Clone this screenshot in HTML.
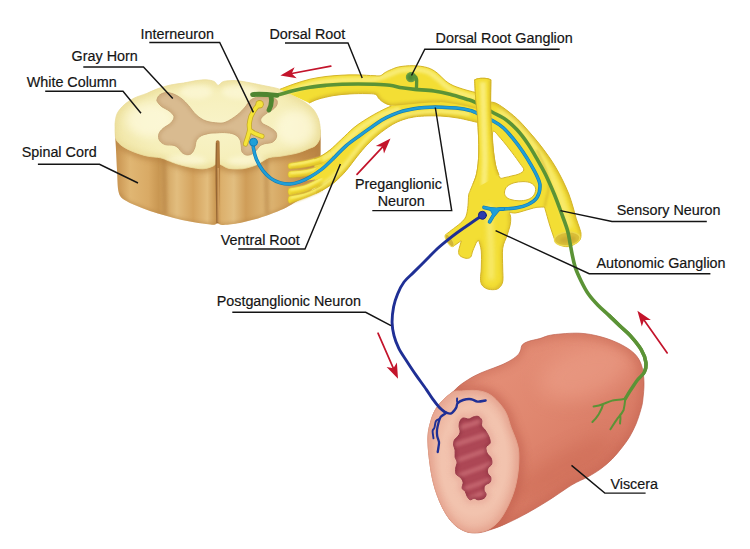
<!DOCTYPE html>
<html lang="en">
<head>
<meta charset="utf-8">
<title>Autonomic reflex arc</title>
<style>
html,body{margin:0;padding:0;background:#fff;}
body{width:750px;height:549px;overflow:hidden;font-family:"Liberation Sans",sans-serif;}
svg{display:block;}
</style>
</head>
<body>
<svg width="750" height="549" viewBox="0 0 750 549">
<rect width="750" height="549" fill="#ffffff"/>
<defs>
<filter id="b1" filterUnits="userSpaceOnUse" x="0" y="0" width="750" height="549"><feGaussianBlur stdDeviation="0.8"/></filter>
<filter id="b2" filterUnits="userSpaceOnUse" x="0" y="0" width="750" height="549"><feGaussianBlur stdDeviation="1.5"/></filter>
<filter id="b3" filterUnits="userSpaceOnUse" x="0" y="0" width="750" height="549"><feGaussianBlur stdDeviation="2.5"/></filter>
<filter id="b4" filterUnits="userSpaceOnUse" x="0" y="0" width="750" height="549"><feGaussianBlur stdDeviation="4"/></filter>
<filter id="b8" filterUnits="userSpaceOnUse" x="0" y="0" width="750" height="549"><feGaussianBlur stdDeviation="9"/></filter>
<linearGradient id="gSide" x1="116" y1="0" x2="319" y2="0" gradientUnits="userSpaceOnUse">
<stop offset="0" stop-color="#c8934f"/><stop offset=".07" stop-color="#e0b673"/><stop offset=".16" stop-color="#d9aa65"/>
<stop offset=".21" stop-color="#c99752"/><stop offset=".30" stop-color="#e2bd7e"/><stop offset=".38" stop-color="#d4a35e"/>
<stop offset=".45" stop-color="#e3bd7d"/><stop offset=".495" stop-color="#c8954f"/><stop offset=".52" stop-color="#dcb06c"/>
<stop offset=".58" stop-color="#e2be80"/><stop offset=".64" stop-color="#cf9d58"/><stop offset=".74" stop-color="#dfb877"/>
<stop offset=".84" stop-color="#d3a25c"/><stop offset=".93" stop-color="#c48e4a"/><stop offset="1" stop-color="#b98445"/>
</linearGradient>
<radialGradient id="gTop" cx="217" cy="125" r="105" gradientUnits="userSpaceOnUse" gradientTransform="translate(0 62.5) scale(1 .5)">
<stop offset="0" stop-color="#f8f3c8"/><stop offset=".7" stop-color="#f6efba"/><stop offset="1" stop-color="#f1e6a8"/>
</radialGradient>
<linearGradient id="gBody" x1="470" y1="350" x2="610" y2="500" gradientUnits="userSpaceOnUse">
<stop offset="0" stop-color="#e6917a"/><stop offset=".45" stop-color="#e0876f"/><stop offset="1" stop-color="#d4735f"/>
</linearGradient>
<radialGradient id="gFace" cx="473" cy="460" r="72" gradientUnits="userSpaceOnUse" gradientTransform="translate(190 0) scale(.6 1)">
<stop offset="0" stop-color="#f3c4b0"/><stop offset=".75" stop-color="#f2c3ae"/><stop offset="1" stop-color="#ecb39e"/>
</radialGradient>
<clipPath id="cSide"><path d="M115.1,128 L115.5,140 C115.8,145 116.5,161.2 117,170 C117.5,178.8 117.3,187.7 118.8,192.8 C120.3,197.9 122.1,198.3 126,200.8 C129.9,203.3 136.7,205.9 142,208 C147.3,210.1 152.7,211.9 158,213.6 C163.3,215.3 168.7,216.7 174,218 C179.3,219.3 184.7,220.6 190,221.6 C195.3,222.6 202,223.5 206,224 C210,224.5 212.1,224.9 214,224.8 C215.9,224.7 216.3,223.2 217.5,223.2 C218.7,223.2 219.6,224.5 221,224.8 C222.4,225.1 222.5,225.2 226,224.8 C229.5,224.4 236.7,223.5 242,222.4 C247.3,221.3 252.7,220 258,218.4 C263.3,216.8 269.2,214.7 274,212.8 C278.8,210.9 283.1,209.1 286.8,207.2 C290.5,205.3 292.7,204 296.4,201.6 C300.1,199.2 305.6,196.7 309.2,192.8 C312.8,188.9 316.1,183.5 318,178 C319.9,172.5 320,167.8 320.4,160 C320.8,152.2 320.4,135.8 320.4,131 L318,118 L116.5,118 Z"/></clipPath>
<clipPath id="cTop"><path d="M115.1,128 C115.1,126.4 114.8,125.4 115.1,123 C115.4,120.6 115.7,116.5 117.2,113.4 C118.8,110.3 121.6,107.1 124.4,104.6 C127.2,102.1 130.3,100.1 134,98.2 C137.7,96.3 142.8,95 146.8,93.4 C150.8,91.8 154,90 158,88.6 C162,87.2 166.5,85.8 170.8,84.9 C175.1,84 179.3,83.7 183.6,83 C187.9,82.3 192.7,81.1 196.4,80.6 C200.1,80.1 203.1,79.7 206,79.8 C208.9,79.9 212,80.5 214,81.4 C216,82.3 216.7,85.2 218,85.4 C219.3,85.6 220.7,83 222,82.3 C223.3,81.6 223.7,81.3 226,81 C228.3,80.7 232.1,80.4 235.6,80.6 C239.1,80.8 242.3,81.4 246.8,82.2 C251.3,83 257.2,84.2 262.8,85.4 C268.4,86.6 275.1,87.5 280.4,89.4 C285.7,91.3 290.5,94.3 294.8,96.6 C299.1,98.9 302.8,100.7 306,103 C309.2,105.3 311.9,107.4 314,110.2 C316.1,113 317.7,116.3 318.8,119.8 C319.9,123.3 320.3,127.8 320.4,131 C320.5,134.2 320.4,136.6 319.6,139 C318.8,141.4 317.3,143.8 315.6,145.4 C313.9,147 312.1,147.3 309.2,148.5 C306.3,149.7 302.5,151.6 298,152.8 C293.5,154.1 286.7,155.2 282,156 C277.3,156.8 272.9,156.7 270,157.4 C267.1,158.1 266.5,158.9 264.5,160 C262.5,161.1 260.1,162.9 258,164 C255.8,165.1 254.3,165.8 251.6,166.6 C248.9,167.4 245.8,168.5 242,168.8 C238.2,169.1 232.2,169 229,168.4 C225.8,167.8 224.1,166.2 222.5,165.5 C220.9,164.8 220.1,164.1 219.3,164.2 C218.5,164.3 218.1,166 217.5,166 C216.9,166 216.5,164.1 215.7,164.2 C214.8,164.3 214.6,165.6 212.4,166.4 C210.2,167.2 206.5,168.7 202.8,168.8 C199.1,168.9 194.3,168 190,167.2 C185.7,166.4 180.9,165.1 177.2,164 C173.5,162.9 170.8,161.6 168,160.6 C165.2,159.6 164,158.6 160.5,157.8 C157,157 151.2,157 146.8,156 C142.4,155 138,153.6 134,152 C130,150.4 125.7,148.4 122.8,146.4 C119.9,144.4 117.7,142.3 116.4,140 C115.1,137.7 115.3,134.6 115.1,132.6 C114.9,130.6 115.1,129.6 115.1,128 Z"/></clipPath>
<clipPath id="cGray"><path d="M157.2,99 C157.6,97.9 158.1,96.1 159.6,95 C161.1,93.9 163.6,92.7 166,92.6 C168.4,92.5 171.3,93.1 174,94.2 C176.7,95.3 179.6,97.1 182,99 C184.4,100.9 186,102.7 188.4,105.4 C190.8,108.1 193.5,112.4 196.4,115 C199.3,117.6 202.4,119.7 206,121 C209.6,122.3 214.7,122.8 218,123 C221.3,123.2 222.8,123.3 226,122 C229.2,120.7 234,117.5 237.2,115 C240.4,112.5 243.1,109.4 245.2,107 C247.3,104.6 248.1,102.2 250,100.6 C251.9,99 253.7,98 256.4,97.4 C259.1,96.8 262.8,96.7 266,97 C269.2,97.3 273.7,97.9 275.6,99 C277.5,100.1 277.5,102.2 277.2,103.8 C276.9,105.4 275.6,107.1 274,108.6 C272.4,110.1 269.7,111 267.6,112.6 C265.5,114.2 262.1,116.5 261.2,118.2 C260.3,119.9 260.7,121.5 262,123 C263.3,124.5 266.9,125.5 269.2,127 C271.5,128.5 274.4,130.1 275.6,131.8 C276.8,133.5 276.9,135.7 276.4,137.4 C275.9,139.1 274.4,141.1 272.4,142.2 C270.4,143.3 266.5,143.1 264.4,143.8 C262.3,144.5 260.9,145.1 259.6,146.2 C258.3,147.3 257.7,148.9 256.4,150.2 C255.1,151.5 253.3,153.4 251.6,154.2 C249.9,155 247.6,155.4 246,155 C244.4,154.6 242.8,153.4 242,151.8 C241.2,150.2 241.6,147.5 241.2,145.4 C240.8,143.3 240.8,140.9 239.6,139 C238.4,137.1 236.5,135.3 234,134.2 C231.5,133.1 227.6,132.8 224.4,132.6 C221.2,132.4 217.3,132.9 214.8,133 C212.3,133.1 211.5,132.9 209.2,133.4 C206.9,133.9 203.3,134.6 201.2,135.8 C199.1,137 197.5,138.6 196.4,140.6 C195.3,142.6 195.6,145.7 194.8,147.8 C194,149.9 192.9,152.2 191.6,153.4 C190.3,154.6 188.4,154.8 186.8,154.7 C185.2,154.6 183.3,153.6 182,152.6 C180.7,151.6 180.1,149.8 178.8,148.6 C177.5,147.4 176.3,146.1 174,145.4 C171.7,144.7 167.6,145.4 165.2,144.6 C162.8,143.8 160.7,142.3 159.6,140.6 C158.5,138.9 158.3,136.2 158.8,134.2 C159.3,132.2 160.8,130.5 162.8,128.6 C164.8,126.7 168.9,125 170.8,123 C172.7,121 174.3,118.6 174,116.6 C173.7,114.6 171.3,112.7 169.2,111 C167.1,109.3 163.2,107.8 161.2,106.2 C159.2,104.6 157.9,102.6 157.2,101.4 C156.5,100.2 156.8,100.1 157.2,99 Z"/></clipPath>
<clipPath id="cVR"><path d="M314,158.8 C315.1,158.4 317.7,157.9 320.4,156.4 C323.1,154.9 326.5,152.8 330,150 C333.5,147.2 337.2,143.3 341.2,139.6 C345.2,135.9 349.7,131.1 354,127.6 C358.3,124.1 362.5,121.5 366.8,118.8 C371.1,116.1 375.5,113.6 379.6,111.5 C383.7,109.4 386.1,107.4 391.2,106 C396.3,104.6 401.9,103.8 410,103 C418.1,102.2 428.7,101.3 440,101 C451.3,100.7 471.7,101 478,101 L478,122.5 C474.7,121.8 464.3,119.1 458,118 C451.7,116.9 445.6,116.3 440,116 C434.4,115.7 428.9,115.8 424.5,116 C420.1,116.2 417.4,116.4 413.8,117 C410.2,117.6 406.6,118.4 403,119.7 C399.4,121 396.5,122.1 392.3,124.6 C388.1,127.1 382.2,131.4 378,134.8 C373.8,138.2 370.3,141.6 366.8,145.2 C363.3,148.8 360.7,152.1 357.2,156.4 C353.7,160.7 349.7,166.5 346,170.8 C342.3,175.1 338.8,178.7 334.8,182 C330.8,185.3 325.1,188.5 322,190.5 C318.9,192.5 317,193.2 316,193.8 Z"/></clipPath>
<clipPath id="cA"><path d="M474.7,79.8 C475.3,79.6 477.1,78.8 478.5,78.6 C479.9,78.3 481.4,78.3 482.8,78.3 C484.2,78.3 485.7,78.3 487,78.6 C488.3,78.8 490.2,79.6 490.8,79.8 C490.8,83.5 490.6,98.3 490.6,102 C491.5,102.2 493.8,102.2 496,103.2 C498.2,104.2 500.5,105.7 504,108.2 C507.5,110.8 512.8,114.8 516.8,118.5 C520.8,122.2 524.3,126.3 528,130.5 C531.7,134.7 535.7,139.3 539,143.5 C542.3,147.7 545.2,151.6 548,155.5 C550.8,159.4 553.1,162.9 555.5,167 C557.9,171.1 560.3,175.5 562.5,180 C564.7,184.5 567,189.5 568.8,194 C570.5,198.5 571.8,202.9 573,207 C574.2,211.1 575.1,215 576.2,218.5 C577.3,222 578.7,225.3 579.5,228 C580.3,230.7 581.1,232.3 581,234.5 C580.9,236.7 581.1,239 579,241 C576.9,243 572.1,246.1 568.5,246.6 C564.9,247.1 560,245.4 557.5,243.8 C555,242.2 554.2,238 553.6,236.8 C553,235 551.1,229.4 550,226 C548.9,222.6 548.1,219.6 547.2,216.4 C546.3,213.2 545,208.6 544.5,207 C543.2,207.1 539.4,207 537,207.3 C534.6,207.6 532.3,208.4 530,209 C527.7,209.6 525.8,210.3 523.3,211 C520.8,211.7 517.6,212.8 515.3,213 C513,213.2 510.3,212.4 509.3,212.3 C509.5,213.2 510.6,215.5 510.7,217.7 C510.8,219.9 510.7,222.6 510,225.7 C509.3,228.8 507.9,232.5 506.7,236.3 C505.5,240.1 503.4,243 502.7,248.3 C502,253.6 502.7,262.6 502.7,268 C502.7,273.4 503.3,277.8 502.8,281 C502.3,284.2 500.9,286.1 499.5,287.5 C498.1,288.9 496.5,289.4 494.4,289.6 C492.3,289.8 489.1,289.6 487,288.8 C484.9,288 483.1,286.7 482,285 C480.9,283.3 480.6,281.6 480.5,278.8 C480.4,276 481.2,272.6 481.3,268 C481.4,263.4 481.7,255.6 481.3,251 C480.9,246.4 479.1,242.1 478.7,240.3 L476.7,241.7 C476,243.2 473.7,248.4 472.7,251 C471.7,253.6 471.8,255.8 470.7,257 C469.6,258.2 467.8,258.5 466,258.3 C464.2,258.1 461.2,256.9 460,255.7 C458.8,254.5 458.5,253.4 458.7,251 C458.9,248.6 460.9,242.7 461.3,241 L460.7,241 C459.5,241.9 454.5,245.4 453.3,246.3 C452.5,245.7 449.6,244.7 448.3,242.8 C447,240.9 446.1,236 445.7,234.7 C446.6,234 448.8,232.2 451.3,230.3 C453.8,228.4 458.2,225.3 460.7,223 C463.1,220.7 464.8,219.2 466,216.3 C467.2,213.4 467.6,209.2 468,205.7 C468.4,202.1 468.3,197.6 468.7,195 C469.1,192.4 469,194 470.3,190.4 C471.6,186.8 475.3,179.7 476.7,173.3 C478.1,166.9 478.6,160.9 478.8,152 C479,143.1 478.2,128.7 477.7,120 C477.2,111.3 476.3,106.7 475.8,100 C475.3,93.3 474.9,83.2 474.7,79.8 Z M493,131.5 C494.3,129.9 497.6,135 500.8,138.5 C504,142 508.8,148.3 512,152.5 C515.2,156.7 518,160.6 520,163.5 C522,166.4 524,168.2 523.8,170 C523.6,171.8 521,173 519,174 C517,175 514.2,175.3 511.9,175.9 C509.6,176.5 506.9,177.2 505,177.5 C503.1,177.8 501.4,178.9 500.2,178 C499,177.1 498.4,174.2 497.6,172 C496.8,169.8 496.2,168.8 495.5,164.8 C494.8,160.8 493.6,153.6 493.2,148 C492.8,142.4 491.7,133.1 493,131.5 Z M504.5,192 C504.7,190.3 505.4,188 507,186.5 C508.6,185 511.3,183.6 514,182.8 C516.7,182 520.2,181.6 523,181.6 C525.8,181.6 528.9,181.9 531,183 C533.1,184.1 535,186 535.5,188 C536,190 535.2,193.1 534,195 C532.8,196.9 530.5,198.5 528,199.5 C525.5,200.5 521.8,200.8 519,200.8 C516.2,200.8 513.2,200.3 511,199.6 C508.8,198.9 507.1,198.1 506,196.8 C504.9,195.5 504.3,193.7 504.5,192 Z" clip-rule="evenodd"/></clipPath>
<clipPath id="cD"><path d="M280,89.3 C282.3,88.4 289,85.7 294,84 C299,82.3 304.7,80.5 310,79.2 C315.3,78 320.7,77.2 326,76.5 C331.3,75.8 336.7,75.5 342,75.2 C347.3,74.9 352.7,74.8 358,74.9 C363.3,75 370.3,75.6 374,75.7 C377.7,75.8 378.5,76.2 380.4,75.7 C382.3,75.2 383.6,73.4 385.2,72.5 C386.8,71.6 387.5,71.1 389.8,70.2 C392.1,69.3 394.9,67.7 398.8,66.9 C402.7,66.2 408.4,65.6 413.2,65.7 C418,65.8 423.6,66.5 427.6,67.7 C431.6,68.9 434.3,70.8 437.2,73 C440.1,75.2 442.5,78.5 445.2,80.6 C447.9,82.7 449.7,84 453.2,85.6 C456.7,87.2 462,88.8 466,90 C470,91.2 475.2,92.3 477,92.8 L477,109 C474.2,108.3 466.2,106.2 460,105 C453.8,103.8 445.9,102.4 440,102 C434.1,101.6 429.8,102.2 424.5,102.5 C419.2,102.8 413.9,103.5 408.4,104 C402.8,104.5 395.3,105.7 391.2,105.4 C387.1,105.1 385.7,103.6 383.6,102.4 C381.5,101.2 380.1,99.7 378.8,98.4 C377.5,97.1 377.7,95.2 375.6,94.4 C373.5,93.6 370.3,93.7 366,93.6 C361.7,93.5 355.3,93.6 350,93.9 C344.7,94.2 339.3,94.6 334,95.5 C328.7,96.4 322.1,98 318,99.2 C313.9,100.5 310.7,102.4 309.2,103 Z"/></clipPath>
<clipPath id="cT"><path d="M474.7,79.8 C475.3,79.6 477.1,78.8 478.5,78.6 C479.9,78.3 481.4,78.3 482.8,78.3 C484.2,78.3 485.7,78.3 487,78.6 C488.3,78.8 490.2,79.6 490.8,79.8 C490.8,83.5 490.5,94.2 490.6,102 C490.7,109.8 491.1,118.8 491.5,126.4 C491.9,134 492.3,141.3 493,147.7 C493.7,154.1 494.5,160.2 495.5,164.8 C496.5,169.4 498.4,173.3 499,175 C495.8,176.8 483.2,184.2 480,186 L473,184 C473.6,182.2 475.7,178.6 476.7,173.3 C477.7,168 478.6,160.9 478.8,152 C479,143.1 478.2,128.7 477.7,120 C477.2,111.3 476.3,106.7 475.8,100 C475.3,93.3 474.9,83.2 474.7,79.8 Z"/></clipPath>
<clipPath id="cBody"><path d="M453.6,391.2 C454.9,390 458.1,386.5 461.6,384 C465.1,381.5 470.1,378.3 474.4,376 C478.7,373.7 482.9,372.1 487.2,370.4 C491.5,368.7 496,367.3 500,365.6 C504,363.9 508.1,361.9 511.2,360 C514.3,358.1 516.8,356.1 518.4,354.4 C520,352.7 520.4,350.4 520.8,349.6 C521.1,348.8 521.1,346.2 522.4,344.8 C523.7,343.4 525.9,342.3 528.8,341.3 C531.7,340.3 535.8,339.7 539.8,338.6 C543.8,337.5 546.2,335.7 552.8,334.8 C559.4,333.9 571.2,332.9 579.2,333.2 C587.2,333.5 594,335 600.8,336.8 C607.6,338.6 614.4,341.2 620,344 C625.6,346.8 630.8,350 634.4,353.6 C638,357.2 640,360.8 641.6,365.6 C643.2,370.4 643.8,376.7 644,382.4 C644.2,388.1 643.3,395.5 642.8,400 C642.3,404.5 641.9,405.6 640.8,409.6 C639.7,413.6 637.9,419.5 636,424 C634.1,428.5 632,432.8 629.6,436.8 C627.2,440.8 624.5,444.3 621.6,448 C618.7,451.7 615.5,455.7 612,459.2 C608.5,462.7 604.8,465.9 600.8,468.8 C596.8,471.7 592.8,474.1 588,476.8 C583.2,479.5 578.5,480.9 572,484.8 C565.5,488.7 556.2,495.6 548.7,500.3 C541.2,505 534.4,509.1 527.3,513 C520.2,516.9 512,521 506,523.7 C499.9,526.5 495.6,528 491,529.5 C486.4,531 482.6,532.5 478.3,532.8 C474.1,533.1 469.8,533.1 465.5,531.5 C461.2,529.9 456.6,527.1 452.7,523 C448.8,518.9 445.2,513.3 442,506.7 C438.8,500.1 435.6,491.4 433.5,483.2 C431.4,475 430.1,465.5 429.2,457.6 C428.3,449.7 427.7,442.3 428,436 C428.3,429.7 429.9,424.5 431.2,420 C432.5,415.5 433.9,412.3 436,408.8 C438.1,405.3 441.1,402.1 444,399.2 C446.9,396.3 452,392.5 453.6,391.2 Z"/></clipPath>
<clipPath id="cFace"><path d="M428,436 C428.3,429.7 429.9,424.5 431.2,420 C432.5,415.5 433.9,412.3 436,408.8 C438.1,405.3 441.1,402 444,399.2 C446.9,396.4 450.7,393.2 453.6,391.8 C456.5,390.4 458.1,391.2 461.6,391 C465.1,390.8 470.7,390.2 474.4,390.4 C478.1,390.6 481.1,391.1 484,392 C486.9,392.9 489.3,394 492,396 C494.7,398 497.6,401.1 500,404 C502.4,406.9 504.5,409.6 506.4,413.6 C508.3,417.6 509.6,423.4 511.2,427.8 C512.8,432.2 514.7,435.8 516,440 C517.3,444.2 518.5,447.2 518.8,453 C519.1,458.8 518.8,467.5 517.7,474.7 C516.6,481.9 515.1,488.9 512.4,496 C509.7,503.1 505.3,512 501.7,517.3 C498.1,522.6 494.9,525.5 491,528 C487.1,530.5 482.6,531.8 478.3,532.3 C474.1,532.8 469.8,532.8 465.5,531.2 C461.2,529.6 456.6,526.8 452.7,522.7 C448.8,518.6 445.2,513.3 442,506.7 C438.8,500.1 435.6,491.4 433.5,483.2 C431.4,475 430.1,465.5 429.2,457.6 C428.3,449.7 427.7,442.3 428,436 Z"/></clipPath>
<clipPath id="cLumen"><path d="M460.1,421 C460.8,419.6 461.6,418.3 463.1,418 C464.6,417.7 467.4,419.2 469.1,419 C470.8,418.8 471.6,417.4 473.1,417 C474.6,416.6 476.7,415.9 478.1,416.4 C479.5,416.9 481.1,418.4 481.7,420 C482.3,421.6 481.1,424.3 481.7,426 C482.3,427.7 483.9,428.1 485.1,430 C486.3,431.9 488.3,434.9 489.1,437.1 C489.9,439.3 490.6,441.4 490.1,443.1 C489.6,444.8 486.6,445.4 486.1,447.1 C485.6,448.8 486.3,451.3 487.1,453.1 C487.9,454.9 490.3,456.3 491.1,458.1 C491.9,459.9 492.2,462.4 491.7,464.1 C491.2,465.8 488.8,466.6 488.1,468.1 C487.4,469.6 487.3,471.6 487.7,473.1 C488.1,474.6 490.3,475.7 490.7,477.2 C491.1,478.7 491,480.9 490.1,482.2 C489.2,483.5 486.1,483.9 485.1,485.2 C484.1,486.5 483.9,488.7 484.1,490.2 C484.3,491.7 486.1,492.9 486.1,494.2 C486.1,495.5 485.4,497.3 484.1,498.2 C482.8,499.1 479.8,499.8 478.1,499.8 C476.4,499.8 475.4,498.2 474.1,498.2 C472.8,498.2 471.3,500.1 470.1,499.8 C468.9,499.5 467.9,497.6 467.1,496.2 C466.3,494.8 465.9,492.5 465.1,491.2 C464.3,489.9 462.4,489.7 462.1,488.2 C461.8,486.7 463.4,484 463.1,482.2 C462.8,480.4 461.3,478.5 460.1,477.2 C458.9,475.9 456.8,475.6 456.1,474.1 C455.4,472.6 455.5,470.1 455.7,468.1 C455.9,466.1 457.2,463.9 457.1,462.1 C457,460.3 455.4,459.1 455.1,457.1 C454.8,455.1 455.4,452.1 455.1,450.1 C454.9,448.1 453.7,446.8 453.6,445.1 C453.5,443.4 453.6,441.6 454.4,440.1 C455.1,438.6 457.2,437.4 458.1,436.1 C459.1,434.8 459.9,433.8 460.1,432.1 C460.3,430.4 459.1,428 459.1,426.1 C459.1,424.2 459.4,422.4 460.1,421 Z"/></clipPath>
</defs>
<g id="cord">
<path d="M115.1,128 L115.5,140 C115.8,145 116.5,161.2 117,170 C117.5,178.8 117.3,187.7 118.8,192.8 C120.3,197.9 122.1,198.3 126,200.8 C129.9,203.3 136.7,205.9 142,208 C147.3,210.1 152.7,211.9 158,213.6 C163.3,215.3 168.7,216.7 174,218 C179.3,219.3 184.7,220.6 190,221.6 C195.3,222.6 202,223.5 206,224 C210,224.5 212.1,224.9 214,224.8 C215.9,224.7 216.3,223.2 217.5,223.2 C218.7,223.2 219.6,224.5 221,224.8 C222.4,225.1 222.5,225.2 226,224.8 C229.5,224.4 236.7,223.5 242,222.4 C247.3,221.3 252.7,220 258,218.4 C263.3,216.8 269.2,214.7 274,212.8 C278.8,210.9 283.1,209.1 286.8,207.2 C290.5,205.3 292.7,204 296.4,201.6 C300.1,199.2 305.6,196.7 309.2,192.8 C312.8,188.9 316.1,183.5 318,178 C319.9,172.5 320,167.8 320.4,160 C320.8,152.2 320.4,135.8 320.4,131 L318,118 L116.5,118 Z" fill="url(#gSide)"/>
<g clip-path="url(#cSide)"><path d="M115.1,128 C115.1,126.4 114.8,125.4 115.1,123 C115.4,120.6 115.7,116.5 117.2,113.4 C118.8,110.3 121.6,107.1 124.4,104.6 C127.2,102.1 130.3,100.1 134,98.2 C137.7,96.3 142.8,95 146.8,93.4 C150.8,91.8 154,90 158,88.6 C162,87.2 166.5,85.8 170.8,84.9 C175.1,84 179.3,83.7 183.6,83 C187.9,82.3 192.7,81.1 196.4,80.6 C200.1,80.1 203.1,79.7 206,79.8 C208.9,79.9 212,80.5 214,81.4 C216,82.3 216.7,85.2 218,85.4 C219.3,85.6 220.7,83 222,82.3 C223.3,81.6 223.7,81.3 226,81 C228.3,80.7 232.1,80.4 235.6,80.6 C239.1,80.8 242.3,81.4 246.8,82.2 C251.3,83 257.2,84.2 262.8,85.4 C268.4,86.6 275.1,87.5 280.4,89.4 C285.7,91.3 290.5,94.3 294.8,96.6 C299.1,98.9 302.8,100.7 306,103 C309.2,105.3 311.9,107.4 314,110.2 C316.1,113 317.7,116.3 318.8,119.8 C319.9,123.3 320.3,127.8 320.4,131 C320.5,134.2 320.4,136.6 319.6,139 C318.8,141.4 317.3,143.8 315.6,145.4 C313.9,147 312.1,147.3 309.2,148.5 C306.3,149.7 302.5,151.6 298,152.8 C293.5,154.1 286.7,155.2 282,156 C277.3,156.8 272.9,156.7 270,157.4 C267.1,158.1 266.5,158.9 264.5,160 C262.5,161.1 260.1,162.9 258,164 C255.8,165.1 254.3,165.8 251.6,166.6 C248.9,167.4 245.8,168.5 242,168.8 C238.2,169.1 232.2,169 229,168.4 C225.8,167.8 224.1,166.2 222.5,165.5 C220.9,164.8 220.1,164.1 219.3,164.2 C218.5,164.3 218.1,166 217.5,166 C216.9,166 216.5,164.1 215.7,164.2 C214.8,164.3 214.6,165.6 212.4,166.4 C210.2,167.2 206.5,168.7 202.8,168.8 C199.1,168.9 194.3,168 190,167.2 C185.7,166.4 180.9,165.1 177.2,164 C173.5,162.9 170.8,161.6 168,160.6 C165.2,159.6 164,158.6 160.5,157.8 C157,157 151.2,157 146.8,156 C142.4,155 138,153.6 134,152 C130,150.4 125.7,148.4 122.8,146.4 C119.9,144.4 117.7,142.3 116.4,140 C115.1,137.7 115.3,134.6 115.1,132.6 C114.9,130.6 115.1,129.6 115.1,128 Z" fill="none" stroke="#b5803f" stroke-width="8" opacity=".6" filter="url(#b3)"/>
<path d="M118.8,192.8 C120,194.1 122.1,198.3 126,200.8 C129.9,203.3 136.7,205.9 142,208 C147.3,210.1 152.7,211.9 158,213.6 C163.3,215.3 168.7,216.7 174,218 C179.3,219.3 184.7,220.6 190,221.6 C195.3,222.6 202,223.5 206,224 C210,224.5 212.1,224.9 214,224.8 C215.9,224.7 216.3,223.2 217.5,223.2 C218.7,223.2 219.6,224.5 221,224.8 C222.4,225.1 222.5,225.2 226,224.8 C229.5,224.4 236.7,223.5 242,222.4 C247.3,221.3 252.7,220 258,218.4 C263.3,216.8 269.2,214.7 274,212.8 C278.8,210.9 283.1,209.1 286.8,207.2 C290.5,205.3 292.7,204 296.4,201.6 C300.1,199.2 305.6,196.7 309.2,192.8 C312.8,188.9 316.1,183.5 318,178 C319.9,172.5 320,167.8 320.4,160 C320.8,152.2 320.4,135.8 320.4,131" fill="none" stroke="#b98747" stroke-width="4" opacity=".45" filter="url(#b2)"/>
<path d="M164,158 L165,214" stroke="#b07c3d" stroke-width="5" opacity=".45" filter="url(#b2)" fill="none"/>
<path d="M266,158 L267,214" stroke="#b07c3d" stroke-width="5" opacity=".45" filter="url(#b2)" fill="none"/>
</g>
<path d="M115.1,128 C115.1,126.4 114.8,125.4 115.1,123 C115.4,120.6 115.7,116.5 117.2,113.4 C118.8,110.3 121.6,107.1 124.4,104.6 C127.2,102.1 130.3,100.1 134,98.2 C137.7,96.3 142.8,95 146.8,93.4 C150.8,91.8 154,90 158,88.6 C162,87.2 166.5,85.8 170.8,84.9 C175.1,84 179.3,83.7 183.6,83 C187.9,82.3 192.7,81.1 196.4,80.6 C200.1,80.1 203.1,79.7 206,79.8 C208.9,79.9 212,80.5 214,81.4 C216,82.3 216.7,85.2 218,85.4 C219.3,85.6 220.7,83 222,82.3 C223.3,81.6 223.7,81.3 226,81 C228.3,80.7 232.1,80.4 235.6,80.6 C239.1,80.8 242.3,81.4 246.8,82.2 C251.3,83 257.2,84.2 262.8,85.4 C268.4,86.6 275.1,87.5 280.4,89.4 C285.7,91.3 290.5,94.3 294.8,96.6 C299.1,98.9 302.8,100.7 306,103 C309.2,105.3 311.9,107.4 314,110.2 C316.1,113 317.7,116.3 318.8,119.8 C319.9,123.3 320.3,127.8 320.4,131 C320.5,134.2 320.4,136.6 319.6,139 C318.8,141.4 317.3,143.8 315.6,145.4 C313.9,147 312.1,147.3 309.2,148.5 C306.3,149.7 302.5,151.6 298,152.8 C293.5,154.1 286.7,155.2 282,156 C277.3,156.8 272.9,156.7 270,157.4 C267.1,158.1 266.5,158.9 264.5,160 C262.5,161.1 260.1,162.9 258,164 C255.8,165.1 254.3,165.8 251.6,166.6 C248.9,167.4 245.8,168.5 242,168.8 C238.2,169.1 232.2,169 229,168.4 C225.8,167.8 224.1,166.2 222.5,165.5 C220.9,164.8 220.1,164.1 219.3,164.2 C218.5,164.3 218.1,166 217.5,166 C216.9,166 216.5,164.1 215.7,164.2 C214.8,164.3 214.6,165.6 212.4,166.4 C210.2,167.2 206.5,168.7 202.8,168.8 C199.1,168.9 194.3,168 190,167.2 C185.7,166.4 180.9,165.1 177.2,164 C173.5,162.9 170.8,161.6 168,160.6 C165.2,159.6 164,158.6 160.5,157.8 C157,157 151.2,157 146.8,156 C142.4,155 138,153.6 134,152 C130,150.4 125.7,148.4 122.8,146.4 C119.9,144.4 117.7,142.3 116.4,140 C115.1,137.7 115.3,134.6 115.1,132.6 C114.9,130.6 115.1,129.6 115.1,128 Z" fill="url(#gTop)" stroke="#ece0a2" stroke-width=".8"/>
<g clip-path="url(#cTop)"><path d="M115.1,128 C115.1,126.4 114.8,125.4 115.1,123 C115.4,120.6 115.7,116.5 117.2,113.4 C118.8,110.3 121.6,107.1 124.4,104.6 C127.2,102.1 130.3,100.1 134,98.2 C137.7,96.3 142.8,95 146.8,93.4 C150.8,91.8 154,90 158,88.6 C162,87.2 166.5,85.8 170.8,84.9 C175.1,84 179.3,83.7 183.6,83 C187.9,82.3 192.7,81.1 196.4,80.6 C200.1,80.1 203.1,79.7 206,79.8 C208.9,79.9 212,80.5 214,81.4 C216,82.3 216.7,85.2 218,85.4 C219.3,85.6 220.7,83 222,82.3 C223.3,81.6 223.7,81.3 226,81 C228.3,80.7 232.1,80.4 235.6,80.6 C239.1,80.8 242.3,81.4 246.8,82.2 C251.3,83 257.2,84.2 262.8,85.4 C268.4,86.6 275.1,87.5 280.4,89.4 C285.7,91.3 290.5,94.3 294.8,96.6 C299.1,98.9 302.8,100.7 306,103 C309.2,105.3 311.9,107.4 314,110.2 C316.1,113 317.7,116.3 318.8,119.8 C319.9,123.3 320.3,127.8 320.4,131 C320.5,134.2 320.4,136.6 319.6,139 C318.8,141.4 317.3,143.8 315.6,145.4 C313.9,147 312.1,147.3 309.2,148.5 C306.3,149.7 302.5,151.6 298,152.8 C293.5,154.1 286.7,155.2 282,156 C277.3,156.8 272.9,156.7 270,157.4 C267.1,158.1 266.5,158.9 264.5,160 C262.5,161.1 260.1,162.9 258,164 C255.8,165.1 254.3,165.8 251.6,166.6 C248.9,167.4 245.8,168.5 242,168.8 C238.2,169.1 232.2,169 229,168.4 C225.8,167.8 224.1,166.2 222.5,165.5 C220.9,164.8 220.1,164.1 219.3,164.2 C218.5,164.3 218.1,166 217.5,166 C216.9,166 216.5,164.1 215.7,164.2 C214.8,164.3 214.6,165.6 212.4,166.4 C210.2,167.2 206.5,168.7 202.8,168.8 C199.1,168.9 194.3,168 190,167.2 C185.7,166.4 180.9,165.1 177.2,164 C173.5,162.9 170.8,161.6 168,160.6 C165.2,159.6 164,158.6 160.5,157.8 C157,157 151.2,157 146.8,156 C142.4,155 138,153.6 134,152 C130,150.4 125.7,148.4 122.8,146.4 C119.9,144.4 117.7,142.3 116.4,140 C115.1,137.7 115.3,134.6 115.1,132.6 C114.9,130.6 115.1,129.6 115.1,128 Z" fill="none" stroke="#e6d488" stroke-width="6" opacity=".38" filter="url(#b3)"/>
<ellipse cx="150" cy="120" rx="24" ry="17" fill="#fffce4" opacity=".6" filter="url(#b4)"/>
<ellipse cx="295" cy="128" rx="19" ry="18" fill="#fffce4" opacity=".6" filter="url(#b4)"/>
<ellipse cx="186" cy="160" rx="20" ry="5" fill="#fffce4" opacity=".5" filter="url(#b3)"/>
<ellipse cx="246" cy="161" rx="18" ry="5" fill="#fffce4" opacity=".5" filter="url(#b3)"/>
<ellipse cx="240" cy="92" rx="18" ry="7" fill="#fffce4" opacity=".5" filter="url(#b3)"/>
<ellipse cx="196" cy="92" rx="16" ry="7" fill="#fffce4" opacity=".5" filter="url(#b3)"/></g>
<path d="M157.2,99 C157.6,97.9 158.1,96.1 159.6,95 C161.1,93.9 163.6,92.7 166,92.6 C168.4,92.5 171.3,93.1 174,94.2 C176.7,95.3 179.6,97.1 182,99 C184.4,100.9 186,102.7 188.4,105.4 C190.8,108.1 193.5,112.4 196.4,115 C199.3,117.6 202.4,119.7 206,121 C209.6,122.3 214.7,122.8 218,123 C221.3,123.2 222.8,123.3 226,122 C229.2,120.7 234,117.5 237.2,115 C240.4,112.5 243.1,109.4 245.2,107 C247.3,104.6 248.1,102.2 250,100.6 C251.9,99 253.7,98 256.4,97.4 C259.1,96.8 262.8,96.7 266,97 C269.2,97.3 273.7,97.9 275.6,99 C277.5,100.1 277.5,102.2 277.2,103.8 C276.9,105.4 275.6,107.1 274,108.6 C272.4,110.1 269.7,111 267.6,112.6 C265.5,114.2 262.1,116.5 261.2,118.2 C260.3,119.9 260.7,121.5 262,123 C263.3,124.5 266.9,125.5 269.2,127 C271.5,128.5 274.4,130.1 275.6,131.8 C276.8,133.5 276.9,135.7 276.4,137.4 C275.9,139.1 274.4,141.1 272.4,142.2 C270.4,143.3 266.5,143.1 264.4,143.8 C262.3,144.5 260.9,145.1 259.6,146.2 C258.3,147.3 257.7,148.9 256.4,150.2 C255.1,151.5 253.3,153.4 251.6,154.2 C249.9,155 247.6,155.4 246,155 C244.4,154.6 242.8,153.4 242,151.8 C241.2,150.2 241.6,147.5 241.2,145.4 C240.8,143.3 240.8,140.9 239.6,139 C238.4,137.1 236.5,135.3 234,134.2 C231.5,133.1 227.6,132.8 224.4,132.6 C221.2,132.4 217.3,132.9 214.8,133 C212.3,133.1 211.5,132.9 209.2,133.4 C206.9,133.9 203.3,134.6 201.2,135.8 C199.1,137 197.5,138.6 196.4,140.6 C195.3,142.6 195.6,145.7 194.8,147.8 C194,149.9 192.9,152.2 191.6,153.4 C190.3,154.6 188.4,154.8 186.8,154.7 C185.2,154.6 183.3,153.6 182,152.6 C180.7,151.6 180.1,149.8 178.8,148.6 C177.5,147.4 176.3,146.1 174,145.4 C171.7,144.7 167.6,145.4 165.2,144.6 C162.8,143.8 160.7,142.3 159.6,140.6 C158.5,138.9 158.3,136.2 158.8,134.2 C159.3,132.2 160.8,130.5 162.8,128.6 C164.8,126.7 168.9,125 170.8,123 C172.7,121 174.3,118.6 174,116.6 C173.7,114.6 171.3,112.7 169.2,111 C167.1,109.3 163.2,107.8 161.2,106.2 C159.2,104.6 157.9,102.6 157.2,101.4 C156.5,100.2 156.8,100.1 157.2,99 Z" fill="#d9bb90" stroke="#caa87a" stroke-width="1"/>
<g clip-path="url(#cGray)"><path d="M157.2,99 C157.6,97.9 158.1,96.1 159.6,95 C161.1,93.9 163.6,92.7 166,92.6 C168.4,92.5 171.3,93.1 174,94.2 C176.7,95.3 179.6,97.1 182,99 C184.4,100.9 186,102.7 188.4,105.4 C190.8,108.1 193.5,112.4 196.4,115 C199.3,117.6 202.4,119.7 206,121 C209.6,122.3 214.7,122.8 218,123 C221.3,123.2 222.8,123.3 226,122 C229.2,120.7 234,117.5 237.2,115 C240.4,112.5 243.1,109.4 245.2,107 C247.3,104.6 248.1,102.2 250,100.6 C251.9,99 253.7,98 256.4,97.4 C259.1,96.8 262.8,96.7 266,97 C269.2,97.3 273.7,97.9 275.6,99 C277.5,100.1 277.5,102.2 277.2,103.8 C276.9,105.4 275.6,107.1 274,108.6 C272.4,110.1 269.7,111 267.6,112.6 C265.5,114.2 262.1,116.5 261.2,118.2 C260.3,119.9 260.7,121.5 262,123 C263.3,124.5 266.9,125.5 269.2,127 C271.5,128.5 274.4,130.1 275.6,131.8 C276.8,133.5 276.9,135.7 276.4,137.4 C275.9,139.1 274.4,141.1 272.4,142.2 C270.4,143.3 266.5,143.1 264.4,143.8 C262.3,144.5 260.9,145.1 259.6,146.2 C258.3,147.3 257.7,148.9 256.4,150.2 C255.1,151.5 253.3,153.4 251.6,154.2 C249.9,155 247.6,155.4 246,155 C244.4,154.6 242.8,153.4 242,151.8 C241.2,150.2 241.6,147.5 241.2,145.4 C240.8,143.3 240.8,140.9 239.6,139 C238.4,137.1 236.5,135.3 234,134.2 C231.5,133.1 227.6,132.8 224.4,132.6 C221.2,132.4 217.3,132.9 214.8,133 C212.3,133.1 211.5,132.9 209.2,133.4 C206.9,133.9 203.3,134.6 201.2,135.8 C199.1,137 197.5,138.6 196.4,140.6 C195.3,142.6 195.6,145.7 194.8,147.8 C194,149.9 192.9,152.2 191.6,153.4 C190.3,154.6 188.4,154.8 186.8,154.7 C185.2,154.6 183.3,153.6 182,152.6 C180.7,151.6 180.1,149.8 178.8,148.6 C177.5,147.4 176.3,146.1 174,145.4 C171.7,144.7 167.6,145.4 165.2,144.6 C162.8,143.8 160.7,142.3 159.6,140.6 C158.5,138.9 158.3,136.2 158.8,134.2 C159.3,132.2 160.8,130.5 162.8,128.6 C164.8,126.7 168.9,125 170.8,123 C172.7,121 174.3,118.6 174,116.6 C173.7,114.6 171.3,112.7 169.2,111 C167.1,109.3 163.2,107.8 161.2,106.2 C159.2,104.6 157.9,102.6 157.2,101.4 C156.5,100.2 156.8,100.1 157.2,99 Z" fill="none" stroke="#c49f70" stroke-width="5" opacity=".5" filter="url(#b2)"/></g>
<path d="M215.8,142.4 C215.8,139.4 219.6,139.4 219.6,142.4 L220,166 C219.8,185 219.2,205 218.6,223.2 L216.5,223.2 C216,205 215.5,185 215.4,166 Z" fill="#b17b3e"/>
<path d="M218.3,168 C218.6,185 218.4,205 217.9,222" stroke="#d0a062" stroke-width="1.5" fill="none" opacity=".9"/>
<path d="M216.5,143 C216.2,160 216.2,190 217,223" stroke="#8f6232" stroke-width="1.1" fill="none" opacity=".85"/>
</g>
<g id="ventral">
<path d="M314,158.8 C315.1,158.4 317.7,157.9 320.4,156.4 C323.1,154.9 326.5,152.8 330,150 C333.5,147.2 337.2,143.3 341.2,139.6 C345.2,135.9 349.7,131.1 354,127.6 C358.3,124.1 362.5,121.5 366.8,118.8 C371.1,116.1 375.5,113.6 379.6,111.5 C383.7,109.4 386.1,107.4 391.2,106 C396.3,104.6 401.9,103.8 410,103 C418.1,102.2 428.7,101.3 440,101 C451.3,100.7 471.7,101 478,101 L478,122.5 C474.7,121.8 464.3,119.1 458,118 C451.7,116.9 445.6,116.3 440,116 C434.4,115.7 428.9,115.8 424.5,116 C420.1,116.2 417.4,116.4 413.8,117 C410.2,117.6 406.6,118.4 403,119.7 C399.4,121 396.5,122.1 392.3,124.6 C388.1,127.1 382.2,131.4 378,134.8 C373.8,138.2 370.3,141.6 366.8,145.2 C363.3,148.8 360.7,152.1 357.2,156.4 C353.7,160.7 349.7,166.5 346,170.8 C342.3,175.1 338.8,178.7 334.8,182 C330.8,185.3 325.1,188.5 322,190.5 C318.9,192.5 317,193.2 316,193.8 Z" fill="#f3de34"/>
<path d="M290,163.2 C292.7,162.7 300.9,161.5 306,160.4 C311.1,159.3 316.4,158.1 320.4,156.4 C324.4,154.7 328.4,151.1 330,150 L333,157 C331.2,158 326.5,161.3 322,163 C317.5,164.7 311.3,166 306,167 C300.7,168 292.7,168.5 290,168.8 C287.4,168.8 287.4,163.2 290,163.2 Z" fill="#f3de34"/>
<path d="M290,165 C292.7,164.5 300.9,163.3 306,162.2 C311.1,161.1 318,158.9 320.4,158.2" fill="none" stroke="#fbf287" stroke-width="2.2" opacity=".9" filter="url(#b1)"/>
<path d="M290,168.2 C292.7,167.9 300.7,167.4 306,166.4 C311.3,165.4 319.3,163.1 322,162.4" fill="none" stroke="#cfa624" stroke-width="1.6" opacity=".75" filter="url(#b1)"/>
<path d="M290,163.2 C292.7,162.7 300.9,161.5 306,160.4 C311.1,159.3 316.4,158.1 320.4,156.4 C324.4,154.7 328.4,151.1 330,150 L333,157 C331.2,158 326.5,161.3 322,163 C317.5,164.7 311.3,166 306,167 C300.7,168 292.7,168.5 290,168.8 C287.4,168.8 287.4,163.2 290,163.2 Z" fill="none" stroke="#d4b528" stroke-width=".7" opacity=".8"/>
<path d="M290,171.2 C292.7,170.9 300.7,170.5 306,169.5 C311.3,168.5 317.5,166.9 322,165 C326.5,163.1 331.2,159.2 333,158 L336,163 C334,164.3 329,168.8 324,171 C319,173.2 311.7,174.9 306,176 C300.3,177.1 292.7,177.3 290,177.6 C287.4,177.6 287.4,171.2 290,171.2 Z" fill="#f3de34"/>
<path d="M290,173 C292.7,172.7 300.7,172.3 306,171.3 C311.3,170.3 319.3,167.6 322,166.8" fill="none" stroke="#fbf287" stroke-width="2.2" opacity=".9" filter="url(#b1)"/>
<path d="M290,177 C292.7,176.7 300.3,176.5 306,175.4 C311.7,174.3 321,171.2 324,170.4" fill="none" stroke="#cfa624" stroke-width="1.6" opacity=".75" filter="url(#b1)"/>
<path d="M290,171.2 C292.7,170.9 300.7,170.5 306,169.5 C311.3,168.5 317.5,166.9 322,165 C326.5,163.1 331.2,159.2 333,158 L336,163 C334,164.3 329,168.8 324,171 C319,173.2 311.7,174.9 306,176 C300.3,177.1 292.7,177.3 290,177.6 C287.4,177.6 287.4,171.2 290,171.2 Z" fill="none" stroke="#d4b528" stroke-width=".7" opacity=".8"/>
<path d="M290,188 C292.7,187.4 300.7,186.4 306,184.5 C311.3,182.6 317.3,179.4 322,176.5 C326.7,173.6 332,168.6 334,167 L337,173 C334.8,174.7 329.2,179.9 324,183 C318.8,186.1 311.7,189.5 306,191.5 C300.3,193.5 292.7,194.6 290,195.2 C287.4,195.2 287.4,188 290,188 Z" fill="#f3de34"/>
<path d="M290,189.8 C292.7,189.2 300.7,188.2 306,186.3 C311.3,184.4 319.3,179.6 322,178.3" fill="none" stroke="#fbf287" stroke-width="2.2" opacity=".9" filter="url(#b1)"/>
<path d="M290,194.6 C292.7,194 300.3,192.9 306,190.9 C311.7,188.9 321,183.8 324,182.4" fill="none" stroke="#cfa624" stroke-width="1.6" opacity=".75" filter="url(#b1)"/>
<path d="M290,188 C292.7,187.4 300.7,186.4 306,184.5 C311.3,182.6 317.3,179.4 322,176.5 C326.7,173.6 332,168.6 334,167 L337,173 C334.8,174.7 329.2,179.9 324,183 C318.8,186.1 311.7,189.5 306,191.5 C300.3,193.5 292.7,194.6 290,195.2 C287.4,195.2 287.4,188 290,188 Z" fill="none" stroke="#d4b528" stroke-width=".7" opacity=".8"/>
<path d="M290,196 C292.7,195.4 300.7,194.3 306,192.5 C311.3,190.7 317,188.1 322,185 C327,181.9 333.7,175.8 336,174 L334.8,182 C332.7,183.4 326.8,187.9 322,190.5 C317.2,193.1 311.3,195.5 306,197.6 C300.7,199.7 292.7,202.3 290,203.2 C287.4,203.2 287.4,196 290,196 Z" fill="#f3de34"/>
<path d="M290,197.8 C292.7,197.2 300.7,196.1 306,194.3 C311.3,192.5 319.3,188.1 322,186.8" fill="none" stroke="#fbf287" stroke-width="2.2" opacity=".9" filter="url(#b1)"/>
<path d="M290,202.6 C292.7,201.7 300.7,199.1 306,197 C311.3,194.9 319.3,191.1 322,189.9" fill="none" stroke="#cfa624" stroke-width="1.6" opacity=".75" filter="url(#b1)"/>
<path d="M290,196 C292.7,195.4 300.7,194.3 306,192.5 C311.3,190.7 317,188.1 322,185 C327,181.9 333.7,175.8 336,174 L334.8,182 C332.7,183.4 326.8,187.9 322,190.5 C317.2,193.1 311.3,195.5 306,197.6 C300.7,199.7 292.7,202.3 290,203.2 C287.4,203.2 287.4,196 290,196 Z" fill="none" stroke="#d4b528" stroke-width=".7" opacity=".8"/>
<path d="M318,166 L336,160 L338,172 L320,178.5 Q310,180.5 305,180.5 Z" fill="#f3de34"/>
<g clip-path="url(#cVR)">
<path d="M322,159 C323.8,158 329.2,155.8 333,153 C336.8,150.2 340.8,145.8 345,142 C349.2,138.2 353.7,133.5 358,130 C362.3,126.5 366.7,123.7 371,121 C375.3,118.3 379.2,116 384,114 C388.8,112 397.3,109.8 400,109" fill="none" stroke="#f9ee7e" stroke-width="5" opacity=".9" filter="url(#b2)"/>
<path d="M322,186 C323.8,184.5 329.2,180.5 333,177 C336.8,173.5 341.2,169.3 345,165 C348.8,160.7 352.3,155.5 356,151 C359.7,146.5 363,142 367,138 C371,134 375.5,130.1 380,127 C384.5,123.9 388.7,121.7 394,119.5 C399.3,117.3 404.3,115.3 412,114 C419.7,112.7 430.3,111.5 440,111.5 C449.7,111.5 465,113.6 470,114" fill="none" stroke="#f9ee7e" stroke-width="4.5" opacity=".8" filter="url(#b2)"/>
<path d="M316,193.8 C317,193.2 318.9,192.5 322,190.5 C325.1,188.5 330.8,185.3 334.8,182 C338.8,178.7 342.3,175.1 346,170.8 C349.7,166.5 353.7,160.7 357.2,156.4 C360.7,152.1 363.3,148.8 366.8,145.2 C370.3,141.6 373.8,138.2 378,134.8 C382.2,131.4 388.1,127.1 392.3,124.6 C396.5,122.1 399.4,121 403,119.7 C406.6,118.4 410.2,117.6 413.8,117 C417.4,116.4 420.1,116.2 424.5,116 C428.9,115.8 434.4,115.7 440,116 C445.6,116.3 451.7,116.9 458,118 C464.3,119.1 474.7,121.8 478,122.5" fill="none" stroke="#c9a627" stroke-width="3" opacity=".6" filter="url(#b2)"/>
</g>
<path d="M314,158.8 C315.1,158.4 317.7,157.9 320.4,156.4 C323.1,154.9 326.5,152.8 330,150 C333.5,147.2 337.2,143.3 341.2,139.6 C345.2,135.9 349.7,131.1 354,127.6 C358.3,124.1 362.5,121.5 366.8,118.8 C371.1,116.1 375.5,113.6 379.6,111.5 C383.7,109.4 389.3,106.9 391.2,106" fill="none" stroke="#d4b528" stroke-width="1"/>
<path d="M322,190.5 C324.1,189.1 330.8,185.3 334.8,182 C338.8,178.7 342.3,175.1 346,170.8 C349.7,166.5 353.7,160.7 357.2,156.4 C360.7,152.1 363.3,148.8 366.8,145.2 C370.3,141.6 373.8,138.2 378,134.8 C382.2,131.4 388.1,127.1 392.3,124.6 C396.5,122.1 399.4,121 403,119.7 C406.6,118.4 410.2,117.6 413.8,117 C417.4,116.4 420.1,116.2 424.5,116 C428.9,115.8 434.4,115.7 440,116 C445.6,116.3 451.7,116.9 458,118 C464.3,119.1 474.7,121.8 478,122.5" fill="none" stroke="#d4b528" stroke-width="1"/>
</g>
<g id="nerveA">
<path d="M474.7,79.8 C475.3,79.6 477.1,78.8 478.5,78.6 C479.9,78.3 481.4,78.3 482.8,78.3 C484.2,78.3 485.7,78.3 487,78.6 C488.3,78.8 490.2,79.6 490.8,79.8 C490.8,83.5 490.6,98.3 490.6,102 C491.5,102.2 493.8,102.2 496,103.2 C498.2,104.2 500.5,105.7 504,108.2 C507.5,110.8 512.8,114.8 516.8,118.5 C520.8,122.2 524.3,126.3 528,130.5 C531.7,134.7 535.7,139.3 539,143.5 C542.3,147.7 545.2,151.6 548,155.5 C550.8,159.4 553.1,162.9 555.5,167 C557.9,171.1 560.3,175.5 562.5,180 C564.7,184.5 567,189.5 568.8,194 C570.5,198.5 571.8,202.9 573,207 C574.2,211.1 575.1,215 576.2,218.5 C577.3,222 578.7,225.3 579.5,228 C580.3,230.7 581.1,232.3 581,234.5 C580.9,236.7 581.1,239 579,241 C576.9,243 572.1,246.1 568.5,246.6 C564.9,247.1 560,245.4 557.5,243.8 C555,242.2 554.2,238 553.6,236.8 C553,235 551.1,229.4 550,226 C548.9,222.6 548.1,219.6 547.2,216.4 C546.3,213.2 545,208.6 544.5,207 C543.2,207.1 539.4,207 537,207.3 C534.6,207.6 532.3,208.4 530,209 C527.7,209.6 525.8,210.3 523.3,211 C520.8,211.7 517.6,212.8 515.3,213 C513,213.2 510.3,212.4 509.3,212.3 C509.5,213.2 510.6,215.5 510.7,217.7 C510.8,219.9 510.7,222.6 510,225.7 C509.3,228.8 507.9,232.5 506.7,236.3 C505.5,240.1 503.4,243 502.7,248.3 C502,253.6 502.7,262.6 502.7,268 C502.7,273.4 503.3,277.8 502.8,281 C502.3,284.2 500.9,286.1 499.5,287.5 C498.1,288.9 496.5,289.4 494.4,289.6 C492.3,289.8 489.1,289.6 487,288.8 C484.9,288 483.1,286.7 482,285 C480.9,283.3 480.6,281.6 480.5,278.8 C480.4,276 481.2,272.6 481.3,268 C481.4,263.4 481.7,255.6 481.3,251 C480.9,246.4 479.1,242.1 478.7,240.3 L476.7,241.7 C476,243.2 473.7,248.4 472.7,251 C471.7,253.6 471.8,255.8 470.7,257 C469.6,258.2 467.8,258.5 466,258.3 C464.2,258.1 461.2,256.9 460,255.7 C458.8,254.5 458.5,253.4 458.7,251 C458.9,248.6 460.9,242.7 461.3,241 L460.7,241 C459.5,241.9 454.5,245.4 453.3,246.3 C452.5,245.7 449.6,244.7 448.3,242.8 C447,240.9 446.1,236 445.7,234.7 C446.6,234 448.8,232.2 451.3,230.3 C453.8,228.4 458.2,225.3 460.7,223 C463.1,220.7 464.8,219.2 466,216.3 C467.2,213.4 467.6,209.2 468,205.7 C468.4,202.1 468.3,197.6 468.7,195 C469.1,192.4 469,194 470.3,190.4 C471.6,186.8 475.3,179.7 476.7,173.3 C478.1,166.9 478.6,160.9 478.8,152 C479,143.1 478.2,128.7 477.7,120 C477.2,111.3 476.3,106.7 475.8,100 C475.3,93.3 474.9,83.2 474.7,79.8 Z M493,131.5 C494.3,129.9 497.6,135 500.8,138.5 C504,142 508.8,148.3 512,152.5 C515.2,156.7 518,160.6 520,163.5 C522,166.4 524,168.2 523.8,170 C523.6,171.8 521,173 519,174 C517,175 514.2,175.3 511.9,175.9 C509.6,176.5 506.9,177.2 505,177.5 C503.1,177.8 501.4,178.9 500.2,178 C499,177.1 498.4,174.2 497.6,172 C496.8,169.8 496.2,168.8 495.5,164.8 C494.8,160.8 493.6,153.6 493.2,148 C492.8,142.4 491.7,133.1 493,131.5 Z M504.5,192 C504.7,190.3 505.4,188 507,186.5 C508.6,185 511.3,183.6 514,182.8 C516.7,182 520.2,181.6 523,181.6 C525.8,181.6 528.9,181.9 531,183 C533.1,184.1 535,186 535.5,188 C536,190 535.2,193.1 534,195 C532.8,196.9 530.5,198.5 528,199.5 C525.5,200.5 521.8,200.8 519,200.8 C516.2,200.8 513.2,200.3 511,199.6 C508.8,198.9 507.1,198.1 506,196.8 C504.9,195.5 504.3,193.7 504.5,192 Z" fill-rule="evenodd" fill="#f3de34"/>
<path d="M280,89.3 C282.3,88.4 289,85.7 294,84 C299,82.3 304.7,80.5 310,79.2 C315.3,78 320.7,77.2 326,76.5 C331.3,75.8 336.7,75.5 342,75.2 C347.3,74.9 352.7,74.8 358,74.9 C363.3,75 370.3,75.6 374,75.7 C377.7,75.8 378.5,76.2 380.4,75.7 C382.3,75.2 383.6,73.4 385.2,72.5 C386.8,71.6 387.5,71.1 389.8,70.2 C392.1,69.3 394.9,67.7 398.8,66.9 C402.7,66.2 408.4,65.6 413.2,65.7 C418,65.8 423.6,66.5 427.6,67.7 C431.6,68.9 434.3,70.8 437.2,73 C440.1,75.2 442.5,78.5 445.2,80.6 C447.9,82.7 449.7,84 453.2,85.6 C456.7,87.2 462,88.8 466,90 C470,91.2 475.2,92.3 477,92.8 L477,109 C474.2,108.3 466.2,106.2 460,105 C453.8,103.8 445.9,102.4 440,102 C434.1,101.6 429.8,102.2 424.5,102.5 C419.2,102.8 413.9,103.5 408.4,104 C402.8,104.5 395.3,105.7 391.2,105.4 C387.1,105.1 385.7,103.6 383.6,102.4 C381.5,101.2 380.1,99.7 378.8,98.4 C377.5,97.1 377.7,95.2 375.6,94.4 C373.5,93.6 370.3,93.7 366,93.6 C361.7,93.5 355.3,93.6 350,93.9 C344.7,94.2 339.3,94.6 334,95.5 C328.7,96.4 322.1,98 318,99.2 C313.9,100.5 310.7,102.4 309.2,103 Z" fill="#f3de34"/>
<g clip-path="url(#cA)">
<path d="M498,111 C500.3,112.3 507.5,115.3 512,119 C516.5,122.7 520.8,127.8 525,133 C529.2,138.2 533.2,144 537,150 C540.8,156 544.7,162.7 548,169 C551.3,175.3 554.3,181.5 557,188 C559.7,194.5 562,201.3 564,208 C566,214.7 568.2,224.7 569,228" fill="none" stroke="#f9ee7e" stroke-width="7" opacity=".85" filter="url(#b3)"/>
<path d="M490.6,102 C491.5,102.2 493.8,102.2 496,103.2 C498.2,104.2 500.5,105.7 504,108.2 C507.5,110.8 512.8,114.8 516.8,118.5 C520.8,122.2 524.3,126.3 528,130.5 C531.7,134.7 535.7,139.3 539,143.5 C542.3,147.7 545.2,151.6 548,155.5 C550.8,159.4 553.1,162.9 555.5,167 C557.9,171.1 560.3,175.5 562.5,180 C564.7,184.5 567,189.5 568.8,194 C570.5,198.5 571.8,202.9 573,207 C574.2,211.1 575.1,215 576.2,218.5 C577.3,222 578.7,225.3 579.5,228 C580.3,230.7 580.8,233.4 581,234.5" fill="none" stroke="#c9a627" stroke-width="4" opacity=".55" filter="url(#b2)"/>
<path d="M509.3,212.3 C509.4,214.5 510.4,221.7 510,225.7 C509.6,229.7 507.9,232.5 506.7,236.3 C505.5,240.1 503.4,243 502.7,248.3 C502,253.6 502.7,262.6 502.7,268 C502.7,273.4 504.2,277.4 502.8,281 C501.4,284.6 497.9,288.9 494.4,289.6 C490.9,290.3 484.2,288.6 482,285 C479.8,281.4 481.4,273.7 481.3,268 C481.2,262.3 481.7,255.6 481.3,251 C480.9,246.4 479.1,242.1 478.7,240.3" fill="none" stroke="#c9a627" stroke-width="3" opacity=".5" filter="url(#b2)"/>
<path d="M489,205 C489.2,209.2 489.7,221.7 490,230 C490.3,238.3 490.8,246.7 491,255 C491.2,263.3 491,275.8 491,280" fill="none" stroke="#f9ee7e" stroke-width="6" opacity=".8" filter="url(#b3)"/>
<path d="M537,150 C538.3,153 543,162.2 545,168 C547,173.8 548.8,179.7 549,185 C549.2,190.3 546.8,196.3 546,200 C545.2,203.7 544.8,205.8 544.5,207" fill="none" stroke="#c9a627" stroke-width="2" opacity=".5" filter="url(#b1)"/>
</g>
<g clip-path="url(#cD)">
<path d="M290,91 C294,89.8 305.2,85.3 314,83.5 C322.8,81.7 333.3,80.7 343,80 C352.7,79.3 364.5,80.3 372,79.5 C379.5,78.7 383.3,76.5 388,75 C392.7,73.5 395.7,71.4 400,70.5 C404.3,69.6 409.3,69.2 414,69.5 C418.7,69.8 424,70.4 428,72 C432,73.6 434,76 438,79 C442,82 445.7,86.8 452,90 C458.3,93.2 472,96.7 476,98" fill="none" stroke="#f9ee7e" stroke-width="5" opacity=".9" filter="url(#b2)"/>
<path d="M309.2,103 C310.7,102.4 313.9,100.5 318,99.2 C322.1,98 328.7,96.4 334,95.5 C339.3,94.6 344.7,94.2 350,93.9 C355.3,93.6 361.7,93.5 366,93.6 C370.3,93.7 373.5,93.6 375.6,94.4 C377.7,95.2 377.5,97.1 378.8,98.4 C380.1,99.7 381.5,101.2 383.6,102.4 C385.7,103.6 387.1,105.1 391.2,105.4 C395.3,105.7 402.8,104.5 408.4,104 C413.9,103.5 419.2,102.8 424.5,102.5 C429.8,102.2 434.1,101.6 440,102 C445.9,102.4 453.8,103.8 460,105 C466.2,106.2 474.2,108.3 477,109" fill="none" stroke="#c9a627" stroke-width="3.5" opacity=".6" filter="url(#b2)"/>
</g>
<path d="M474.7,79.8 C475.3,79.6 477.1,78.8 478.5,78.6 C479.9,78.3 481.4,78.3 482.8,78.3 C484.2,78.3 485.7,78.3 487,78.6 C488.3,78.8 490.2,79.6 490.8,79.8 C490.8,83.5 490.6,98.3 490.6,102 C491.5,102.2 493.8,102.2 496,103.2 C498.2,104.2 500.5,105.7 504,108.2 C507.5,110.8 512.8,114.8 516.8,118.5 C520.8,122.2 524.3,126.3 528,130.5 C531.7,134.7 535.7,139.3 539,143.5 C542.3,147.7 545.2,151.6 548,155.5 C550.8,159.4 553.1,162.9 555.5,167 C557.9,171.1 560.3,175.5 562.5,180 C564.7,184.5 567,189.5 568.8,194 C570.5,198.5 571.8,202.9 573,207 C574.2,211.1 575.1,215 576.2,218.5 C577.3,222 578.7,225.3 579.5,228 C580.3,230.7 581.1,232.3 581,234.5 C580.9,236.7 581.1,239 579,241 C576.9,243 572.1,246.1 568.5,246.6 C564.9,247.1 560,245.4 557.5,243.8 C555,242.2 554.2,238 553.6,236.8 C553,235 551.1,229.4 550,226 C548.9,222.6 548.1,219.6 547.2,216.4 C546.3,213.2 545,208.6 544.5,207 C543.2,207.1 539.4,207 537,207.3 C534.6,207.6 532.3,208.4 530,209 C527.7,209.6 525.8,210.3 523.3,211 C520.8,211.7 517.6,212.8 515.3,213 C513,213.2 510.3,212.4 509.3,212.3 C509.5,213.2 510.6,215.5 510.7,217.7 C510.8,219.9 510.7,222.6 510,225.7 C509.3,228.8 507.9,232.5 506.7,236.3 C505.5,240.1 503.4,243 502.7,248.3 C502,253.6 502.7,262.6 502.7,268 C502.7,273.4 503.3,277.8 502.8,281 C502.3,284.2 500.9,286.1 499.5,287.5 C498.1,288.9 496.5,289.4 494.4,289.6 C492.3,289.8 489.1,289.6 487,288.8 C484.9,288 483.1,286.7 482,285 C480.9,283.3 480.6,281.6 480.5,278.8 C480.4,276 481.2,272.6 481.3,268 C481.4,263.4 481.7,255.6 481.3,251 C480.9,246.4 479.1,242.1 478.7,240.3 L476.7,241.7 C476,243.2 473.7,248.4 472.7,251 C471.7,253.6 471.8,255.8 470.7,257 C469.6,258.2 467.8,258.5 466,258.3 C464.2,258.1 461.2,256.9 460,255.7 C458.8,254.5 458.5,253.4 458.7,251 C458.9,248.6 460.9,242.7 461.3,241 L460.7,241 C459.5,241.9 454.5,245.4 453.3,246.3 C452.5,245.7 449.6,244.7 448.3,242.8 C447,240.9 446.1,236 445.7,234.7 C446.6,234 448.8,232.2 451.3,230.3 C453.8,228.4 458.2,225.3 460.7,223 C463.1,220.7 464.8,219.2 466,216.3 C467.2,213.4 467.6,209.2 468,205.7 C468.4,202.1 468.3,197.6 468.7,195 C469.1,192.4 469,194 470.3,190.4 C471.6,186.8 475.3,179.7 476.7,173.3 C478.1,166.9 478.6,160.9 478.8,152 C479,143.1 478.2,128.7 477.7,120 C477.2,111.3 476.3,106.7 475.8,100 C475.3,93.3 474.9,83.2 474.7,79.8 Z M493,131.5 C494.3,129.9 497.6,135 500.8,138.5 C504,142 508.8,148.3 512,152.5 C515.2,156.7 518,160.6 520,163.5 C522,166.4 524,168.2 523.8,170 C523.6,171.8 521,173 519,174 C517,175 514.2,175.3 511.9,175.9 C509.6,176.5 506.9,177.2 505,177.5 C503.1,177.8 501.4,178.9 500.2,178 C499,177.1 498.4,174.2 497.6,172 C496.8,169.8 496.2,168.8 495.5,164.8 C494.8,160.8 493.6,153.6 493.2,148 C492.8,142.4 491.7,133.1 493,131.5 Z M504.5,192 C504.7,190.3 505.4,188 507,186.5 C508.6,185 511.3,183.6 514,182.8 C516.7,182 520.2,181.6 523,181.6 C525.8,181.6 528.9,181.9 531,183 C533.1,184.1 535,186 535.5,188 C536,190 535.2,193.1 534,195 C532.8,196.9 530.5,198.5 528,199.5 C525.5,200.5 521.8,200.8 519,200.8 C516.2,200.8 513.2,200.3 511,199.6 C508.8,198.9 507.1,198.1 506,196.8 C504.9,195.5 504.3,193.7 504.5,192 Z" fill="none" stroke="#d4b528" stroke-width="1"/>
<path d="M280,89.3 C282.3,88.4 289,85.7 294,84 C299,82.3 304.7,80.5 310,79.2 C315.3,78 320.7,77.2 326,76.5 C331.3,75.8 336.7,75.5 342,75.2 C347.3,74.9 352.7,74.8 358,74.9 C363.3,75 370.3,75.6 374,75.7 C377.7,75.8 378.5,76.2 380.4,75.7 C382.3,75.2 383.6,73.4 385.2,72.5 C386.8,71.6 387.5,71.1 389.8,70.2 C392.1,69.3 394.9,67.7 398.8,66.9 C402.7,66.2 408.4,65.6 413.2,65.7 C418,65.8 423.6,66.5 427.6,67.7 C431.6,68.9 434.3,70.8 437.2,73 C440.1,75.2 442.5,78.5 445.2,80.6 C447.9,82.7 449.7,84 453.2,85.6 C456.7,87.2 462,88.8 466,90 C470,91.2 475.2,92.3 477,92.8" fill="none" stroke="#d4b528" stroke-width="1"/>
<path d="M309.2,103 C310.7,102.4 313.9,100.5 318,99.2 C322.1,98 328.7,96.4 334,95.5 C339.3,94.6 344.7,94.2 350,93.9 C355.3,93.6 361.7,93.5 366,93.6 C370.3,93.7 373.5,93.6 375.6,94.4 C377.7,95.2 377.5,97.1 378.8,98.4 C380.1,99.7 381.5,101.2 383.6,102.4 C385.7,103.6 389.9,104.9 391.2,105.4" fill="none" stroke="#d4b528" stroke-width="1"/>
<path d="M391.2,105.4 C394.1,105.2 402.8,104.5 408.4,104 C413.9,103.5 419.2,102.8 424.5,102.5 C429.8,102.2 437.4,102.1 440,102" fill="none" stroke="#d4b528" stroke-width="1" opacity=".55"/>
<ellipse cx="567.2" cy="238.8" rx="12.8" ry="6.8" transform="rotate(-6 567.2 238.8)" fill="#d9be38" stroke="#ecd94f" stroke-width="1.3"/>
<ellipse cx="568" cy="239.5" rx="8" ry="3.6" transform="rotate(-6 568 239.5)" fill="#c2a22e" opacity=".55" filter="url(#b1)"/>
<ellipse cx="449.5" cy="240.5" rx="2.6" ry="7" transform="rotate(-33 449.5 240.5)" fill="#d3b636" stroke="#ecd94f" stroke-width="1"/>
</g>
<g id="neurons" fill="none" stroke-linecap="round" stroke-linejoin="round">
<path d="M254,94.6 C255.3,94.7 259.3,94.9 262,95 C264.7,95.1 267.5,95.3 270.4,95.2 C273.3,95.1 275.7,95.2 279.6,94.4 C283.5,93.6 288.9,91.6 294,90.4 C299.1,89.2 304.7,88.1 310,87.2 C315.3,86.3 320.7,85.8 326,85.3 C331.3,84.8 336.7,84.5 342,84.3 C347.3,84.1 352.7,84 358,84 C363.3,84 368.7,84.1 374,84.3 C379.3,84.5 385.1,84.7 389.8,85.3 C394.5,85.9 397.8,87.1 402,87.8 C406.2,88.5 409.5,88.9 414.8,89.4 C420.1,89.9 428.1,90.2 434,91 C439.9,91.8 444.7,92.9 450,94.2 C455.3,95.5 461.9,97.7 466,99 C470.1,100.3 470.5,100 474.8,102.2 C479.1,104.4 487.1,109.3 492,112 C496.9,114.7 499.9,115.5 504,118.4 C508.1,121.3 512.8,125.3 516.8,129.6 C520.8,133.9 524.5,138.9 528,144 C531.5,149.1 534.6,154.8 537.6,160 C540.6,165.2 543.2,169.7 546,175.5 C548.8,181.3 552,188.7 554.5,194.7 C557,200.7 558.8,205.8 560.9,211.7 C563,217.6 565.9,224.8 567.4,230 C568.9,235.2 569.2,238.5 570,242.8 C570.8,247.1 571.5,251.3 572.4,255.6 C573.3,259.9 574.1,264.1 575.6,268.4 C577.1,272.7 579.1,276.9 581.2,281.2 C583.3,285.5 585.6,290 588.4,294 C591.2,298 594.5,301.6 598,305.2 C601.5,308.8 605.5,312.1 609.2,315.6 C612.9,319.1 616.5,322.6 620,326 C623.5,329.4 627,331.9 630.5,335.9 C634,339.8 638.6,345.3 641.2,349.7 C643.8,354.1 645.4,358.8 645.9,362.5 C646.4,366.2 645.9,369 644.4,372 C642.9,375 639.2,377.6 636.9,380.7 C634.6,383.8 632.5,387.3 630.5,390.3 C628.5,393.3 626.1,397.4 625.2,398.8" stroke="#5b9336" stroke-width="3.6"/>
<path d="M252.6,94.6 C258,93.6 268,94.4 277,95.4 M270.8,96 C272,100 271.5,105 269,110" stroke="#4f8530" stroke-width="4.8"/>
<circle cx="411" cy="77.1" r="4.5" fill="#5f9a3c" stroke="#6aa046" stroke-width="1.4"/>
<circle cx="410.6" cy="77.3" r="2.6" fill="#4c8233" stroke="none" opacity=".8" filter="url(#b1)"/>
<path d="M414.6,76 C417.6,77.5 416.6,82 416.4,88.8" stroke="#5b9336" stroke-width="3.3"/>
<path d="M253.5,142.2 C253.5,143.2 252.9,145.2 253.4,148 C253.9,150.8 254.8,155.5 256.4,159.2 C258,162.9 260.4,167.2 262.8,170.4 C265.2,173.6 267.9,176.3 270.8,178.4 C273.7,180.5 277.2,182 280.4,182.9 C283.6,183.8 286.8,184.2 290,184 C293.2,183.8 296.4,183 299.6,181.9 C302.8,180.8 305.5,179.8 309.2,177.6 C312.9,175.4 317.7,172.4 322,169 C326.3,165.6 330.8,160.9 334.8,157 C338.8,153.1 341.8,149.4 346,145.8 C350.2,142.2 355.9,138.3 360,135.3 C364.1,132.3 367.2,130.1 370.8,127.6 C374.4,125.1 377.9,122.3 381.5,120.2 C385.1,118.1 388.7,116.3 392.3,114.8 C395.9,113.3 399.4,112 403,111 C406.6,110 410.2,109.4 413.8,108.8 C417.4,108.2 420.9,107.8 424.5,107.5 C428.1,107.2 432.4,107.1 435.3,107.1 C438.2,107.1 438.2,107.1 442,107.3 C445.8,107.5 453.5,107.7 458,108.2 C462.5,108.7 466.4,109.5 469.2,110.2 C472,110.9 470.9,110.4 474.8,112.2 C478.7,114 488,118.2 492.8,120.8 C497.6,123.4 500.1,124.9 503.5,128 C506.9,131.1 510.2,135.2 513.5,139.2 C516.8,143.2 520.1,147.7 523,152 C525.9,156.3 528.8,161 531,164.8 C533.2,168.6 535,171.6 536.5,175 C538,178.4 539.9,181.8 540,185.5 C540.1,189.2 539,194.3 537,197.5 C535,200.7 531.4,202.8 528,204.5 C524.6,206.2 521,207.1 516.7,207.8 C512.4,208.6 505.6,208.7 502,209 C498.4,209.3 496.4,209.8 495.3,209.9" stroke="#127bb5" stroke-width="3.5"/>
<path d="M253.5,142.2 C253.5,143.2 252.9,145.2 253.4,148 C253.9,150.8 254.8,155.5 256.4,159.2 C258,162.9 260.4,167.2 262.8,170.4 C265.2,173.6 267.9,176.3 270.8,178.4 C273.7,180.5 277.2,182 280.4,182.9 C283.6,183.8 286.8,184.2 290,184 C293.2,183.8 296.4,183 299.6,181.9 C302.8,180.8 305.5,179.8 309.2,177.6 C312.9,175.4 317.7,172.4 322,169 C326.3,165.6 330.8,160.9 334.8,157 C338.8,153.1 341.8,149.4 346,145.8 C350.2,142.2 355.9,138.3 360,135.3 C364.1,132.3 367.2,130.1 370.8,127.6 C374.4,125.1 377.9,122.3 381.5,120.2 C385.1,118.1 388.7,116.3 392.3,114.8 C395.9,113.3 399.4,112 403,111 C406.6,110 410.2,109.4 413.8,108.8 C417.4,108.2 420.9,107.8 424.5,107.5 C428.1,107.2 432.4,107.1 435.3,107.1 C438.2,107.1 438.2,107.1 442,107.3 C445.8,107.5 453.5,107.7 458,108.2 C462.5,108.7 466.4,109.5 469.2,110.2 C472,110.9 470.9,110.4 474.8,112.2 C478.7,114 488,118.2 492.8,120.8 C497.6,123.4 500.1,124.9 503.5,128 C506.9,131.1 510.2,135.2 513.5,139.2 C516.8,143.2 520.1,147.7 523,152 C525.9,156.3 528.8,161 531,164.8 C533.2,168.6 535,171.6 536.5,175 C538,178.4 539.9,181.8 540,185.5 C540.1,189.2 539,194.3 537,197.5 C535,200.7 531.4,202.8 528,204.5 C524.6,206.2 521,207.1 516.7,207.8 C512.4,208.6 505.6,208.7 502,209 C498.4,209.3 496.4,209.8 495.3,209.9" stroke="#1f9fd8" stroke-width="2.3"/>
<circle cx="253.5" cy="142.2" r="3.9" fill="#1f9fd8" stroke="#127bb5" stroke-width="1"/>
</g>
<g id="trunk">
<path d="M474.7,79.8 C475.3,79.6 477.1,78.8 478.5,78.6 C479.9,78.3 481.4,78.3 482.8,78.3 C484.2,78.3 485.7,78.3 487,78.6 C488.3,78.8 490.2,79.6 490.8,79.8 C490.8,83.5 490.5,94.2 490.6,102 C490.7,109.8 491.1,118.8 491.5,126.4 C491.9,134 492.3,141.3 493,147.7 C493.7,154.1 494.5,160.2 495.5,164.8 C496.5,169.4 498.4,173.3 499,175 C495.8,176.8 483.2,184.2 480,186 L473,184 C473.6,182.2 475.7,178.6 476.7,173.3 C477.7,168 478.6,160.9 478.8,152 C479,143.1 478.2,128.7 477.7,120 C477.2,111.3 476.3,106.7 475.8,100 C475.3,93.3 474.9,83.2 474.7,79.8 Z" fill="#f3de34"/>
<g clip-path="url(#cT)"><path d="M482.8,82 L483.8,120 L485,160 L484,186" fill="none" stroke="#f9ee7e" stroke-width="6" opacity=".9" filter="url(#b2)"/>
<path d="M490.8,79.8 C490.8,83.5 490.5,94.2 490.6,102 C490.7,109.8 491.1,118.8 491.5,126.4 C491.9,134 492.3,141.3 493,147.7 C493.7,154.1 494.5,160.2 495.5,164.8 C496.5,169.4 498.4,173.3 499,175" fill="none" stroke="#c9a627" stroke-width="3" opacity=".55" filter="url(#b1)"/></g>
<path d="M490.8,79.8 C490.8,83.5 490.5,94.2 490.6,102 C490.7,109.8 491.1,118.8 491.5,126.4 C491.9,134 492.3,141.3 493,147.7 C493.7,154.1 494.5,160.2 495.5,164.8 C496.5,169.4 498.4,173.3 499,175" fill="none" stroke="#d4b528" stroke-width="1"/>
<path d="M473,184 C473.6,182.2 475.7,178.6 476.7,173.3 C477.7,168 478.6,160.9 478.8,152 C479,143.1 478.2,128.7 477.7,120 C477.2,111.3 476.3,106.7 475.8,100 C475.3,93.3 474.9,83.2 474.7,79.8" fill="none" stroke="#d4b528" stroke-width="1"/>
<path d="M474.7,79.8 C475.3,79.6 477.1,78.8 478.5,78.6 C479.9,78.3 481.4,78.3 482.8,78.3 C484.2,78.3 485.7,78.3 487,78.6 C488.3,78.8 490.2,79.6 490.8,79.8" fill="none" stroke="#d4b528" stroke-width="1"/>
</g>
<g fill="none" stroke-linecap="round" stroke-linejoin="round">
<path d="M503,208.8 C497,209.6 490,209.2 484,207.4 M498.5,209.4 C495.5,212.5 492,217 489.6,221.8" stroke="#127bb5" stroke-width="3.7"/>
<path d="M498.5,209.2 L489,208.6 C491,210.6 492.6,212.6 493.2,215.4 Z" fill="#127bb5" stroke="#127bb5" stroke-width="1.4"/>
<path d="M503,208.8 C497,209.6 490,209.2 484,207.4 M498.5,209.4 C495.5,212.5 492,217 489.6,221.8" stroke="#1f9fd8" stroke-width="2.4"/>
<path d="M498.5,209.2 L489,208.6 C491,210.6 492.6,212.6 493.2,215.4 Z" fill="#1f9fd8" stroke="#1f9fd8" stroke-width=".4"/>
</g>
<g fill="none" stroke-linecap="round" stroke-linejoin="round">
<path d="M259.6,104.3 C257,106 256,107.5 254.8,109.4 C253,112 251.8,114.5 250.8,116.6 C250,119.5 249.5,122 249.2,124.6 L249.6,130 C249,133 248.3,135 247.6,137.4 C246.8,140 246,142 245.5,144.1 M249.6,130 C252,132 254,133.3 256.4,134.2 C258.5,135 260,135.8 262,136.3" stroke="#c2a829" stroke-width="5"/>
<circle cx="259.6" cy="104.3" r="4.2" fill="#c2a829"/>
<path d="M259.6,104.3 C257,106 256,107.5 254.8,109.4 C253,112 251.8,114.5 250.8,116.6 C250,119.5 249.5,122 249.2,124.6 L249.6,130 C249,133 248.3,135 247.6,137.4 C246.8,140 246,142 245.5,144.1 M249.6,130 C252,132 254,133.3 256.4,134.2 C258.5,135 260,135.8 262,136.3" stroke="#f5e438" stroke-width="3.5"/>
<circle cx="259.6" cy="104.3" r="3.3" fill="#f4e23c"/>
</g>
<g id="viscera">
<path d="M453.6,391.2 C454.9,390 458.1,386.5 461.6,384 C465.1,381.5 470.1,378.3 474.4,376 C478.7,373.7 482.9,372.1 487.2,370.4 C491.5,368.7 496,367.3 500,365.6 C504,363.9 508.1,361.9 511.2,360 C514.3,358.1 516.8,356.1 518.4,354.4 C520,352.7 520.4,350.4 520.8,349.6 C521.1,348.8 521.1,346.2 522.4,344.8 C523.7,343.4 525.9,342.3 528.8,341.3 C531.7,340.3 535.8,339.7 539.8,338.6 C543.8,337.5 546.2,335.7 552.8,334.8 C559.4,333.9 571.2,332.9 579.2,333.2 C587.2,333.5 594,335 600.8,336.8 C607.6,338.6 614.4,341.2 620,344 C625.6,346.8 630.8,350 634.4,353.6 C638,357.2 640,360.8 641.6,365.6 C643.2,370.4 643.8,376.7 644,382.4 C644.2,388.1 643.3,395.5 642.8,400 C642.3,404.5 641.9,405.6 640.8,409.6 C639.7,413.6 637.9,419.5 636,424 C634.1,428.5 632,432.8 629.6,436.8 C627.2,440.8 624.5,444.3 621.6,448 C618.7,451.7 615.5,455.7 612,459.2 C608.5,462.7 604.8,465.9 600.8,468.8 C596.8,471.7 592.8,474.1 588,476.8 C583.2,479.5 578.5,480.9 572,484.8 C565.5,488.7 556.2,495.6 548.7,500.3 C541.2,505 534.4,509.1 527.3,513 C520.2,516.9 512,521 506,523.7 C499.9,526.5 495.6,528 491,529.5 C486.4,531 482.6,532.5 478.3,532.8 C474.1,533.1 469.8,533.1 465.5,531.5 C461.2,529.9 456.6,527.1 452.7,523 C448.8,518.9 445.2,513.3 442,506.7 C438.8,500.1 435.6,491.4 433.5,483.2 C431.4,475 430.1,465.5 429.2,457.6 C428.3,449.7 427.7,442.3 428,436 C428.3,429.7 429.9,424.5 431.2,420 C432.5,415.5 433.9,412.3 436,408.8 C438.1,405.3 441.1,402.1 444,399.2 C446.9,396.3 452,392.5 453.6,391.2 Z" fill="url(#gBody)" stroke="#bf6453" stroke-width=".7"/>
<g clip-path="url(#cBody)">
<ellipse cx="585" cy="372" rx="48" ry="26" transform="rotate(-18 585 372)" fill="#eea38d" opacity=".5" filter="url(#b8)"/>
<ellipse cx="560" cy="470" rx="60" ry="14" transform="rotate(-30 560 470)" fill="#c9664f" opacity=".45" filter="url(#b8)"/>
<path d="M453.6,391.2 C454.9,390 458.1,386.5 461.6,384 C465.1,381.5 470.1,378.3 474.4,376 C478.7,373.7 482.9,372.1 487.2,370.4 C491.5,368.7 496,367.3 500,365.6 C504,363.9 508.1,361.9 511.2,360 C514.3,358.1 516.8,356.1 518.4,354.4 C520,352.7 520.4,350.4 520.8,349.6 C521.1,348.8 521.1,346.2 522.4,344.8 C523.7,343.4 525.9,342.3 528.8,341.3 C531.7,340.3 535.8,339.7 539.8,338.6 C543.8,337.5 546.2,335.7 552.8,334.8 C559.4,333.9 571.2,332.9 579.2,333.2 C587.2,333.5 594,335 600.8,336.8 C607.6,338.6 614.4,341.2 620,344 C625.6,346.8 630.8,350 634.4,353.6 C638,357.2 640,360.8 641.6,365.6 C643.2,370.4 643.8,376.7 644,382.4 C644.2,388.1 643.3,395.5 642.8,400 C642.3,404.5 641.9,405.6 640.8,409.6 C639.7,413.6 637.9,419.5 636,424 C634.1,428.5 632,432.8 629.6,436.8 C627.2,440.8 624.5,444.3 621.6,448 C618.7,451.7 615.5,455.7 612,459.2 C608.5,462.7 604.8,465.9 600.8,468.8 C596.8,471.7 592.8,474.1 588,476.8 C583.2,479.5 578.5,480.9 572,484.8 C565.5,488.7 556.2,495.6 548.7,500.3 C541.2,505 534.4,509.1 527.3,513 C520.2,516.9 512,521 506,523.7 C499.9,526.5 495.6,528 491,529.5 C486.4,531 482.6,532.5 478.3,532.8 C474.1,533.1 469.8,533.1 465.5,531.5 C461.2,529.9 456.6,527.1 452.7,523 C448.8,518.9 445.2,513.3 442,506.7 C438.8,500.1 435.6,491.4 433.5,483.2 C431.4,475 430.1,465.5 429.2,457.6 C428.3,449.7 427.7,442.3 428,436 C428.3,429.7 429.9,424.5 431.2,420 C432.5,415.5 433.9,412.3 436,408.8 C438.1,405.3 441.1,402.1 444,399.2 C446.9,396.3 452,392.5 453.6,391.2 Z" fill="none" stroke="#c05f4c" stroke-width="7" opacity=".5" filter="url(#b4)"/>
<path d="M428,436 C428.3,429.7 429.9,424.5 431.2,420 C432.5,415.5 433.9,412.3 436,408.8 C438.1,405.3 441.1,402 444,399.2 C446.9,396.4 450.7,393.2 453.6,391.8 C456.5,390.4 458.1,391.2 461.6,391 C465.1,390.8 470.7,390.2 474.4,390.4 C478.1,390.6 481.1,391.1 484,392 C486.9,392.9 489.3,394 492,396 C494.7,398 497.6,401.1 500,404 C502.4,406.9 504.5,409.6 506.4,413.6 C508.3,417.6 509.6,423.4 511.2,427.8 C512.8,432.2 514.7,435.8 516,440 C517.3,444.2 518.5,447.2 518.8,453 C519.1,458.8 518.8,467.5 517.7,474.7 C516.6,481.9 515.1,488.9 512.4,496 C509.7,503.1 505.3,512 501.7,517.3 C498.1,522.6 494.9,525.5 491,528 C487.1,530.5 482.6,531.8 478.3,532.3 C474.1,532.8 469.8,532.8 465.5,531.2 C461.2,529.6 456.6,526.8 452.7,522.7 C448.8,518.6 445.2,513.3 442,506.7 C438.8,500.1 435.6,491.4 433.5,483.2 C431.4,475 430.1,465.5 429.2,457.6 C428.3,449.7 427.7,442.3 428,436 Z" fill="none" stroke="#b5503f" stroke-width="10" opacity=".45" filter="url(#b4)"/>
</g>
<path d="M428,436 C428.3,429.7 429.9,424.5 431.2,420 C432.5,415.5 433.9,412.3 436,408.8 C438.1,405.3 441.1,402 444,399.2 C446.9,396.4 450.7,393.2 453.6,391.8 C456.5,390.4 458.1,391.2 461.6,391 C465.1,390.8 470.7,390.2 474.4,390.4 C478.1,390.6 481.1,391.1 484,392 C486.9,392.9 489.3,394 492,396 C494.7,398 497.6,401.1 500,404 C502.4,406.9 504.5,409.6 506.4,413.6 C508.3,417.6 509.6,423.4 511.2,427.8 C512.8,432.2 514.7,435.8 516,440 C517.3,444.2 518.5,447.2 518.8,453 C519.1,458.8 518.8,467.5 517.7,474.7 C516.6,481.9 515.1,488.9 512.4,496 C509.7,503.1 505.3,512 501.7,517.3 C498.1,522.6 494.9,525.5 491,528 C487.1,530.5 482.6,531.8 478.3,532.3 C474.1,532.8 469.8,532.8 465.5,531.2 C461.2,529.6 456.6,526.8 452.7,522.7 C448.8,518.6 445.2,513.3 442,506.7 C438.8,500.1 435.6,491.4 433.5,483.2 C431.4,475 430.1,465.5 429.2,457.6 C428.3,449.7 427.7,442.3 428,436 Z" fill="url(#gFace)" stroke="#e2a38c" stroke-width="1"/>
<g clip-path="url(#cFace)">
<path d="M428,436 C428.3,429.7 429.9,424.5 431.2,420 C432.5,415.5 433.9,412.3 436,408.8 C438.1,405.3 441.1,402 444,399.2 C446.9,396.4 450.7,393.2 453.6,391.8 C456.5,390.4 458.1,391.2 461.6,391 C465.1,390.8 470.7,390.2 474.4,390.4 C478.1,390.6 481.1,391.1 484,392 C486.9,392.9 489.3,394 492,396 C494.7,398 497.6,401.1 500,404 C502.4,406.9 504.5,409.6 506.4,413.6 C508.3,417.6 509.6,423.4 511.2,427.8 C512.8,432.2 514.7,435.8 516,440 C517.3,444.2 518.5,447.2 518.8,453 C519.1,458.8 518.8,467.5 517.7,474.7 C516.6,481.9 515.1,488.9 512.4,496 C509.7,503.1 505.3,512 501.7,517.3 C498.1,522.6 494.9,525.5 491,528 C487.1,530.5 482.6,531.8 478.3,532.3 C474.1,532.8 469.8,532.8 465.5,531.2 C461.2,529.6 456.6,526.8 452.7,522.7 C448.8,518.6 445.2,513.3 442,506.7 C438.8,500.1 435.6,491.4 433.5,483.2 C431.4,475 430.1,465.5 429.2,457.6 C428.3,449.7 427.7,442.3 428,436 Z" fill="none" stroke="#e39f8b" stroke-width="7" opacity=".6" filter="url(#b3)"/>
<path d="M460.1,421 C460.8,419.6 461.6,418.3 463.1,418 C464.6,417.7 467.4,419.2 469.1,419 C470.8,418.8 471.6,417.4 473.1,417 C474.6,416.6 476.7,415.9 478.1,416.4 C479.5,416.9 481.1,418.4 481.7,420 C482.3,421.6 481.1,424.3 481.7,426 C482.3,427.7 483.9,428.1 485.1,430 C486.3,431.9 488.3,434.9 489.1,437.1 C489.9,439.3 490.6,441.4 490.1,443.1 C489.6,444.8 486.6,445.4 486.1,447.1 C485.6,448.8 486.3,451.3 487.1,453.1 C487.9,454.9 490.3,456.3 491.1,458.1 C491.9,459.9 492.2,462.4 491.7,464.1 C491.2,465.8 488.8,466.6 488.1,468.1 C487.4,469.6 487.3,471.6 487.7,473.1 C488.1,474.6 490.3,475.7 490.7,477.2 C491.1,478.7 491,480.9 490.1,482.2 C489.2,483.5 486.1,483.9 485.1,485.2 C484.1,486.5 483.9,488.7 484.1,490.2 C484.3,491.7 486.1,492.9 486.1,494.2 C486.1,495.5 485.4,497.3 484.1,498.2 C482.8,499.1 479.8,499.8 478.1,499.8 C476.4,499.8 475.4,498.2 474.1,498.2 C472.8,498.2 471.3,500.1 470.1,499.8 C468.9,499.5 467.9,497.6 467.1,496.2 C466.3,494.8 465.9,492.5 465.1,491.2 C464.3,489.9 462.4,489.7 462.1,488.2 C461.8,486.7 463.4,484 463.1,482.2 C462.8,480.4 461.3,478.5 460.1,477.2 C458.9,475.9 456.8,475.6 456.1,474.1 C455.4,472.6 455.5,470.1 455.7,468.1 C455.9,466.1 457.2,463.9 457.1,462.1 C457,460.3 455.4,459.1 455.1,457.1 C454.8,455.1 455.4,452.1 455.1,450.1 C454.9,448.1 453.7,446.8 453.6,445.1 C453.5,443.4 453.6,441.6 454.4,440.1 C455.1,438.6 457.2,437.4 458.1,436.1 C459.1,434.8 459.9,433.8 460.1,432.1 C460.3,430.4 459.1,428 459.1,426.1 C459.1,424.2 459.4,422.4 460.1,421 Z" fill="none" stroke="#e7a898" stroke-width="9" opacity=".6" filter="url(#b3)"/>
</g>
<path d="M460.1,421 C460.8,419.6 461.6,418.3 463.1,418 C464.6,417.7 467.4,419.2 469.1,419 C470.8,418.8 471.6,417.4 473.1,417 C474.6,416.6 476.7,415.9 478.1,416.4 C479.5,416.9 481.1,418.4 481.7,420 C482.3,421.6 481.1,424.3 481.7,426 C482.3,427.7 483.9,428.1 485.1,430 C486.3,431.9 488.3,434.9 489.1,437.1 C489.9,439.3 490.6,441.4 490.1,443.1 C489.6,444.8 486.6,445.4 486.1,447.1 C485.6,448.8 486.3,451.3 487.1,453.1 C487.9,454.9 490.3,456.3 491.1,458.1 C491.9,459.9 492.2,462.4 491.7,464.1 C491.2,465.8 488.8,466.6 488.1,468.1 C487.4,469.6 487.3,471.6 487.7,473.1 C488.1,474.6 490.3,475.7 490.7,477.2 C491.1,478.7 491,480.9 490.1,482.2 C489.2,483.5 486.1,483.9 485.1,485.2 C484.1,486.5 483.9,488.7 484.1,490.2 C484.3,491.7 486.1,492.9 486.1,494.2 C486.1,495.5 485.4,497.3 484.1,498.2 C482.8,499.1 479.8,499.8 478.1,499.8 C476.4,499.8 475.4,498.2 474.1,498.2 C472.8,498.2 471.3,500.1 470.1,499.8 C468.9,499.5 467.9,497.6 467.1,496.2 C466.3,494.8 465.9,492.5 465.1,491.2 C464.3,489.9 462.4,489.7 462.1,488.2 C461.8,486.7 463.4,484 463.1,482.2 C462.8,480.4 461.3,478.5 460.1,477.2 C458.9,475.9 456.8,475.6 456.1,474.1 C455.4,472.6 455.5,470.1 455.7,468.1 C455.9,466.1 457.2,463.9 457.1,462.1 C457,460.3 455.4,459.1 455.1,457.1 C454.8,455.1 455.4,452.1 455.1,450.1 C454.9,448.1 453.7,446.8 453.6,445.1 C453.5,443.4 453.6,441.6 454.4,440.1 C455.1,438.6 457.2,437.4 458.1,436.1 C459.1,434.8 459.9,433.8 460.1,432.1 C460.3,430.4 459.1,428 459.1,426.1 C459.1,424.2 459.4,422.4 460.1,421 Z" fill="#ad4755" stroke="#9c3d4d" stroke-width="1"/>
<g clip-path="url(#cLumen)">
<path d="M456,429 L484,420" stroke="#c86b73" stroke-width="5" opacity=".8" filter="url(#b2)"/>
<path d="M454,445 L491,433" stroke="#c86b73" stroke-width="5" opacity=".8" filter="url(#b2)"/>
<path d="M453,462 L492,448" stroke="#c86b73" stroke-width="5" opacity=".8" filter="url(#b2)"/>
<path d="M455,477 L493,463" stroke="#c86b73" stroke-width="5" opacity=".8" filter="url(#b2)"/>
<path d="M461,490 L492,479" stroke="#c86b73" stroke-width="5" opacity=".8" filter="url(#b2)"/>
<path d="M466,500 L488,491" stroke="#c86b73" stroke-width="5" opacity=".8" filter="url(#b2)"/>
<path d="M460.1,421 C460.8,419.6 461.6,418.3 463.1,418 C464.6,417.7 467.4,419.2 469.1,419 C470.8,418.8 471.6,417.4 473.1,417 C474.6,416.6 476.7,415.9 478.1,416.4 C479.5,416.9 481.1,418.4 481.7,420 C482.3,421.6 481.1,424.3 481.7,426 C482.3,427.7 483.9,428.1 485.1,430 C486.3,431.9 488.3,434.9 489.1,437.1 C489.9,439.3 490.6,441.4 490.1,443.1 C489.6,444.8 486.6,445.4 486.1,447.1 C485.6,448.8 486.3,451.3 487.1,453.1 C487.9,454.9 490.3,456.3 491.1,458.1 C491.9,459.9 492.2,462.4 491.7,464.1 C491.2,465.8 488.8,466.6 488.1,468.1 C487.4,469.6 487.3,471.6 487.7,473.1 C488.1,474.6 490.3,475.7 490.7,477.2 C491.1,478.7 491,480.9 490.1,482.2 C489.2,483.5 486.1,483.9 485.1,485.2 C484.1,486.5 483.9,488.7 484.1,490.2 C484.3,491.7 486.1,492.9 486.1,494.2 C486.1,495.5 485.4,497.3 484.1,498.2 C482.8,499.1 479.8,499.8 478.1,499.8 C476.4,499.8 475.4,498.2 474.1,498.2 C472.8,498.2 471.3,500.1 470.1,499.8 C468.9,499.5 467.9,497.6 467.1,496.2 C466.3,494.8 465.9,492.5 465.1,491.2 C464.3,489.9 462.4,489.7 462.1,488.2 C461.8,486.7 463.4,484 463.1,482.2 C462.8,480.4 461.3,478.5 460.1,477.2 C458.9,475.9 456.8,475.6 456.1,474.1 C455.4,472.6 455.5,470.1 455.7,468.1 C455.9,466.1 457.2,463.9 457.1,462.1 C457,460.3 455.4,459.1 455.1,457.1 C454.8,455.1 455.4,452.1 455.1,450.1 C454.9,448.1 453.7,446.8 453.6,445.1 C453.5,443.4 453.6,441.6 454.4,440.1 C455.1,438.6 457.2,437.4 458.1,436.1 C459.1,434.8 459.9,433.8 460.1,432.1 C460.3,430.4 459.1,428 459.1,426.1 C459.1,424.2 459.4,422.4 460.1,421 Z" fill="none" stroke="#8f3040" stroke-width="4" opacity=".5" filter="url(#b2)"/>
</g>
<g fill="none" stroke-linecap="round" stroke-linejoin="round">
<path d="M482.4,215.3 C480.3,216.7 474.3,220.8 470,223.7 C465.7,226.6 460.5,230.2 456.7,233 C452.9,235.8 450.6,237.6 447.2,240.4 C443.8,243.2 439.7,246.5 436,250 C432.3,253.5 428.5,257.5 424.8,261.2 C421.1,264.9 417.1,268.9 413.6,272.4 C410.1,275.9 406.7,278.4 404,282 C401.3,285.6 399.3,289.9 397.6,294 C395.9,298.1 394.5,302 393.6,306.8 C392.7,311.6 392,318 392.1,322.8 C392.2,327.6 392.9,331.3 394,335.6 C395.1,339.9 396.7,344.1 398.8,348.4 C400.9,352.7 403.9,356.7 406.8,361.2 C409.7,365.7 413.1,370.9 416.4,375.6 C419.7,380.3 423.7,385.7 426.4,389.6 C429.1,393.5 430.7,396.3 432.8,399.2 C434.9,402.1 437.1,405 439.2,407.2 C441.3,409.4 444.5,411.7 445.6,412.6" stroke="#1f2f95" stroke-width="2.9"/>
<circle cx="482.4" cy="215.3" r="4" fill="#2b3cae" stroke="#18247a" stroke-width="1"/>
<path d="M609.2,315.6 C611,317.3 616.5,322.6 620,326 C623.5,329.4 627,331.9 630.5,335.9 C634,339.8 638.6,345.3 641.2,349.7 C643.8,354.1 645.4,358.8 645.9,362.5 C646.4,366.2 645.9,369 644.4,372 C642.9,375 639.2,377.6 636.9,380.7 C634.6,383.8 632.5,387.3 630.5,390.3 C628.5,393.3 626.1,397.4 625.2,398.8" stroke="#5b9336" stroke-width="3.4"/>
<path d="M625.2,398.8 C620,400 615,400 612.8,400.4 C609,401.5 606,403 603.2,404 C600,405.5 597,406 593.6,406.4 M603.2,404 C602,409 600,412 598.4,414.8 C596.5,418 594.5,420 592.4,422" stroke="#5b9336" stroke-width="2"/>
<path d="M625.5,397.5 C625,402 624.5,406 623.6,410 C622,413.5 619.5,416 617.6,418.4 C615,422 612.5,426 610.4,429.2 M620.3,414.5 C620.6,418 620.4,421 620,423.5" stroke="#5b9336" stroke-width="2"/>
</g>
<g fill="none" stroke="#1f2f95" stroke-linecap="round" stroke-linejoin="round">
<path d="M445.6,412.6 C446.5,412.7 449.5,414.2 451.2,413.4 C452.9,412.6 454.9,409.7 456,408 C457.1,406.3 456.4,404.5 457.6,403.2 C458.8,401.9 460.9,400.7 463.2,400 C465.5,399.3 468.8,398.9 471.2,399.2 C473.6,399.5 475.2,401.4 477.6,401.6 C480,401.8 484.3,400.7 485.6,400.5" stroke-width="2.4"/>
<path d="M457.6,403.2 C456.8,401.5 456.8,400 457.1,398.4" stroke-width="1.9"/>
<path d="M446.5,412.8 C445.6,413.5 442.2,415.1 440.8,416.8 C439.4,418.5 439,421 438.4,423.2 C437.8,425.4 437.2,427.9 437,430 C436.8,432.1 436.9,434 437.2,436 C437.5,438 438.8,440.2 439,442 C439.2,443.8 438.7,445.3 438.5,447 C438.3,448.7 437.8,451.2 437.7,452" stroke-width="2.3"/>
<path d="M439.5,419 C438.9,419.3 436.9,419.5 436,421 C435.1,422.5 435,426.1 434.4,427.8 C433.8,429.5 432.8,429.2 432.6,431 C432.5,432.8 433.4,437.1 433.5,438.3" stroke-width="1.9"/>
</g>
</g>
<g id="arrows">
<path d="M330.8,66.1 L291.7,73.5" stroke="#c3142b" stroke-width="1.7" stroke-linecap="round" fill="none"/><path d="M280.4,75.6 L294.6,67.2 L291.7,73.5 L296.7,78.2 Z" fill="#c3142b"/>
<path d="M357,174.4 L382.7,146.8" stroke="#c3142b" stroke-width="1.7" stroke-linecap="round" fill="none"/><path d="M390.5,138.4 L384,153.6 L382.7,146.8 L375.8,145.9 Z" fill="#c3142b"/>
<path d="M378,333.2 L393.4,368.3" stroke="#c3142b" stroke-width="1.7" stroke-linecap="round" fill="none"/><path d="M398,378.8 L386.6,366.9 L393.4,368.3 L396.9,362.4 Z" fill="#c3142b"/>
<path d="M667.2,352.9 L644,320.1" stroke="#c3142b" stroke-width="1.7" stroke-linecap="round" fill="none"/><path d="M637.4,310.7 L650.9,320.1 L644,320.1 L641.8,326.6 Z" fill="#c3142b"/>
</g>
<g id="lines" fill="none" stroke="#141414" stroke-width="1.45" stroke-linejoin="miter">
<path d="M149.3,42.5 H219.7 L253.4,112.4"/>
<path d="M83.3,67 H143.5 L172.8,98.6"/>
<path d="M45.2,91.3 H123 L141,113.3"/>
<path d="M37.9,164.3 H99.5 L138,183"/>
<path d="M285,43 H348 L362.2,78"/>
<path d="M559.7,49.2 H424.8 L411.5,75.5"/>
<path d="M372.3,210.6 H451.7 L435.3,107.5"/>
<path d="M238.3,249 H305 L340.4,164"/>
<path d="M706.8,221.4 H612 L560.4,210.6"/>
<path d="M710.4,273.7 H589.2 L495.6,230.6"/>
<path d="M232.3,312.3 H365.7 L391,325.6"/>
<path d="M645.6,493.1 H604.8 L571.5,465.4"/>
</g>
<g id="labels" font-family="'Liberation Sans', sans-serif" font-size="14.35" fill="#141414" stroke="#141414" stroke-width=".18">
<text x="140.5" y="39">Interneuron</text>
<text x="71.6" y="61">Gray Horn</text>
<text x="26.7" y="86.9">White Column</text>
<text x="21.7" y="157.3">Spinal Cord</text>
<text x="269.5" y="38.5">Dorsal Root</text>
<text x="435.6" y="43.3">Dorsal Root Ganglion</text>
<text x="355" y="189">Preganglionic</text>
<text x="377.7" y="206">Neuron</text>
<text x="220.7" y="245">Ventral Root</text>
<text x="616.8" y="214.8">Sensory Neuron</text>
<text x="596.4" y="267.6">Autonomic Ganglion</text>
<text x="216.7" y="305.8">Postganglionic Neuron</text>
<text x="610.4" y="488.6">Viscera</text>
</g>
</svg>
</body>
</html>
